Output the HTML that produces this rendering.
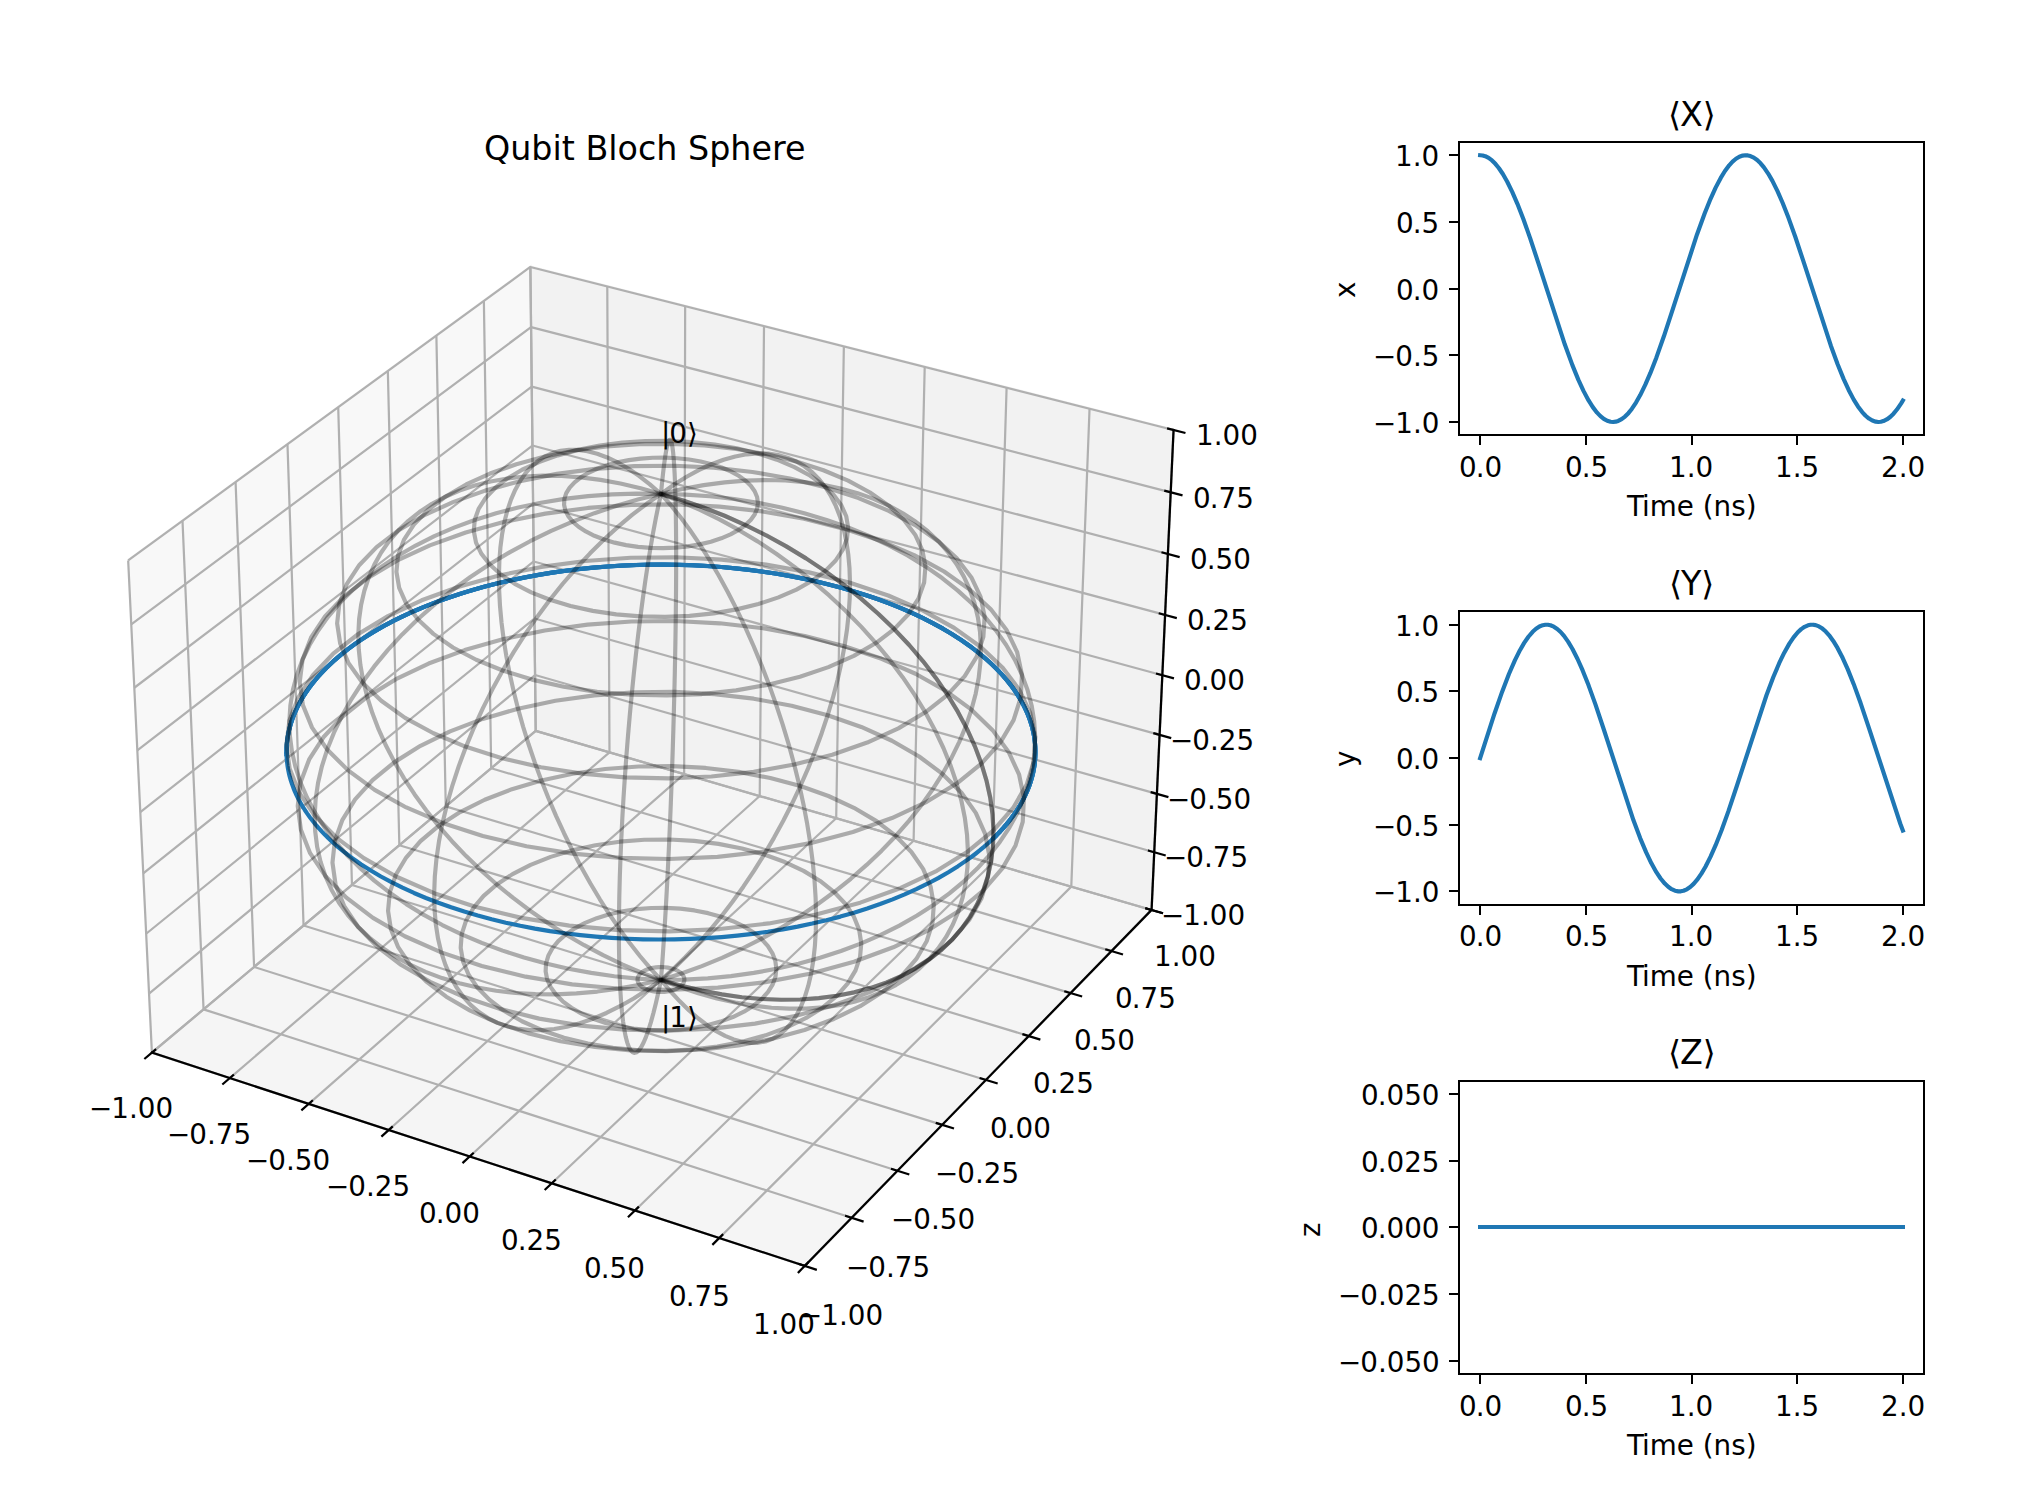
<!DOCTYPE html>
<html lang="en">
<head>
<meta charset="utf-8">
<title>Qubit Bloch Sphere</title>
<style>
html,body{margin:0;padding:0;background:#fff;}
body{width:2036px;height:1486px;overflow:hidden;font-family:"DejaVu Sans","Liberation Sans",sans-serif;}
svg text{font-family:"DejaVu Sans","Liberation Sans",sans-serif;fill:#000;text-anchor:start;}
svg text.t10{font-size:10px;}
svg text.t12{font-size:12px;}
</style>
</head>
<body>
<svg width="2036" height="1486" viewBox="0 0 732.96 534.96" style="display:block">
 <defs>
  <style type="text/css">*{stroke-linejoin: round; stroke-linecap: butt}</style>
 </defs>
 <g id="figure_1">
  <g id="patch_1">
   <path d="M 0 534.96 L 732.96 534.96 L 732.96 0 L 0 0 z
" style="fill: #ffffff"/>
  </g>
  <g id="patch_2">
   <path d="M 23.085 482.121 L 441.495 482.121 L 441.495 63.711 L 23.085 63.711 z
" style="fill: #ffffff"/>
  </g>
  <g id="pane3d_1">
   <g id="patch_3">
    <path d="M 54.67784 378.954503 L 192.850487 263.135451 L 190.929755 96.103673 L 46.144835 201.761113 " style="fill: #f2f2f2; opacity: 0.5; stroke: #f2f2f2; stroke-linejoin: miter"/>
   </g>
  </g>
  <g id="pane3d_2">
   <g id="patch_4">
    <path d="M 192.850487 263.135451 L 414.568285 327.580061 L 422.480611 154.795065 L 190.929755 96.103673 " style="fill: #e6e6e6; opacity: 0.5; stroke: #e6e6e6; stroke-linejoin: miter"/>
   </g>
  </g>
  <g id="pane3d_3">
   <g id="patch_5">
    <path d="M 54.67784 378.954503 L 289.709535 455.715854 L 414.568285 327.580061 L 192.850487 263.135451 " style="fill: #ececec; opacity: 0.5; stroke: #ececec; stroke-linejoin: miter"/>
   </g>
  </g>
  <g id="grid3d_1">
   <g id="Line3DCollection_1">
    <path d="M 54.67784 378.954503 L 192.850487 263.135451 L 190.929755 96.103673 " style="fill: none; stroke: #b0b0b0; stroke-width: 0.8"/>
    <path d="M 82.727675 388.115579 L 219.414432 270.856541 L 218.620289 103.122416 " style="fill: none; stroke: #b0b0b0; stroke-width: 0.8"/>
    <path d="M 111.142439 397.395841 L 246.2954 278.669777 L 246.655542 110.228536 " style="fill: none; stroke: #b0b0b0; stroke-width: 0.8"/>
    <path d="M 139.929299 406.797629 L 273.499099 286.576818 L 275.04199 117.423673 " style="fill: none; stroke: #b0b0b0; stroke-width: 0.8"/>
    <path d="M 169.095614 416.323348 L 301.031377 294.579364 L 303.786276 124.709511 " style="fill: none; stroke: #b0b0b0; stroke-width: 0.8"/>
    <path d="M 198.648936 425.975463 L 328.898223 302.679156 L 332.895207 132.087777 " style="fill: none; stroke: #b0b0b0; stroke-width: 0.8"/>
    <path d="M 228.597019 435.756506 L 357.105772 310.877977 L 362.375768 139.56024 " style="fill: none; stroke: #b0b0b0; stroke-width: 0.8"/>
    <path d="M 258.947826 445.66908 L 385.660312 319.177655 L 392.23512 147.128715 " style="fill: none; stroke: #b0b0b0; stroke-width: 0.8"/>
    <path d="M 289.709535 455.715854 L 414.568285 327.580061 L 422.480611 154.795065 " style="fill: none; stroke: #b0b0b0; stroke-width: 0.8"/>
   </g>
  </g>
  <g id="grid3d_2">
   <g id="Line3DCollection_2">
    <path d="M 46.144835 201.761113 L 54.67784 378.954503 L 289.709535 455.715854 " style="fill: none; stroke: #b0b0b0; stroke-width: 0.8"/>
    <path d="M 65.700638 187.490179 L 73.279328 363.362367 L 306.582966 438.399563 " style="fill: none; stroke: #b0b0b0; stroke-width: 0.8"/>
    <path d="M 84.811533 173.543918 L 91.476038 348.109524 L 323.069793 421.480023 " style="fill: none; stroke: #b0b0b0; stroke-width: 0.8"/>
    <path d="M 103.492532 159.911376 L 109.281038 333.18502 L 339.183153 404.943752 " style="fill: none; stroke: #b0b0b0; stroke-width: 0.8"/>
    <path d="M 121.75798 146.582084 L 126.706844 318.578364 L 354.935593 388.777873 " style="fill: none; stroke: #b0b0b0; stroke-width: 0.8"/>
    <path d="M 139.621589 133.546036 L 143.76544 304.279511 L 370.339106 372.970079 " style="fill: none; stroke: #b0b0b0; stroke-width: 0.8"/>
    <path d="M 157.096476 120.793659 L 160.468313 290.278832 L 385.405157 357.508604 " style="fill: none; stroke: #b0b0b0; stroke-width: 0.8"/>
    <path d="M 174.195192 108.315795 L 176.826474 276.567096 L 400.144717 342.38219 " style="fill: none; stroke: #b0b0b0; stroke-width: 0.8"/>
    <path d="M 190.929755 96.103673 L 192.850487 263.135451 L 414.568285 327.580061 " style="fill: none; stroke: #b0b0b0; stroke-width: 0.8"/>
   </g>
  </g>
  <g id="grid3d_3">
   <g id="Line3DCollection_3">
    <path d="M 414.568285 327.580061 L 192.850487 263.135451 L 54.67784 378.954503 " style="fill: none; stroke: #b0b0b0; stroke-width: 0.8"/>
    <path d="M 415.52002 306.796604 L 192.619022 243.006677 L 53.652969 357.672376 " style="fill: none; stroke: #b0b0b0; stroke-width: 0.8"/>
    <path d="M 416.482067 285.78795 L 192.385169 222.670196 L 52.61657 336.15088 " style="fill: none; stroke: #b0b0b0; stroke-width: 0.8"/>
    <path d="M 417.454595 264.550421 L 192.14889 202.122777 L 51.568448 314.385954 " style="fill: none; stroke: #b0b0b0; stroke-width: 0.8"/>
    <path d="M 418.437776 243.080255 L 191.910148 181.36112 L 50.508404 292.373445 " style="fill: none; stroke: #b0b0b0; stroke-width: 0.8"/>
    <path d="M 419.431786 221.37361 L 191.668903 160.381857 L 49.436232 270.109103 " style="fill: none; stroke: #b0b0b0; stroke-width: 0.8"/>
    <path d="M 420.436806 199.426555 L 191.425116 139.181548 L 48.351723 247.588582 " style="fill: none; stroke: #b0b0b0; stroke-width: 0.8"/>
    <path d="M 421.453018 177.235076 L 191.178747 117.756683 L 47.254664 224.807436 " style="fill: none; stroke: #b0b0b0; stroke-width: 0.8"/>
    <path d="M 422.480611 154.795065 L 190.929755 96.103673 L 46.144835 201.761113 " style="fill: none; stroke: #b0b0b0; stroke-width: 0.8"/>
   </g>
  </g>
  <g id="axis3d_1">
   <g id="line2d_1">
    <path d="M 54.67784 378.954503 L 289.709535 455.715854 " style="fill: none; stroke: #000000; stroke-width: 0.8; stroke-linecap: square"/>
   </g>
   <g id="xtick_1">
    <g id="line2d_2">
     <path d="M 55.88072 377.946225 L 52.266936 380.975371 " style="fill: none; stroke: #000000; stroke-width: 0.8; stroke-linecap: square"/>
    </g>
    <g id="text_1">
     <text class="t10" x="31.68" y="402.494" dx="0.36 -0.36">−1.00</text>
    </g>
   </g>
   <g id="xtick_2">
    <g id="line2d_3">
     <path d="M 83.918242 387.094231 L 80.341415 390.162672 " style="fill: none; stroke: #000000; stroke-width: 0.8; stroke-linecap: square"/>
    </g>
    <g id="text_2">
     <text class="t10" x="59.76" y="411.854" dx="0.36 -0.36">−0.75</text>
    </g>
   </g>
   <g id="xtick_3">
    <g id="line2d_4">
     <path d="M 112.32027 396.361166 L 108.781672 399.469672 " style="fill: none; stroke: #000000; stroke-width: 0.8; stroke-linecap: square"/>
    </g>
    <g id="text_3">
     <text class="t10" x="88.2" y="421.214" dx="0.36 -0.36">−0.50</text>
    </g>
   </g>
   <g id="xtick_4">
    <g id="line2d_5">
     <path d="M 141.093959 405.749366 L 137.594901 408.898727 " style="fill: none; stroke: #000000; stroke-width: 0.8; stroke-linecap: square"/>
    </g>
    <g id="text_4">
     <text class="t10" x="117" y="430.574" dx="0.36 -0.36">−0.25</text>
    </g>
   </g>
   <g id="xtick_5">
    <g id="line2d_6">
     <path d="M 170.246651 415.261226 L 166.788488 418.452253 " style="fill: none; stroke: #000000; stroke-width: 0.8; stroke-linecap: square"/>
    </g>
    <g id="text_5">
     <text class="t10" x="150.48" y="440.294" dx="0.36 -0.36">0.00</text>
    </g>
   </g>
   <g id="xtick_6">
    <g id="line2d_7">
     <path d="M 199.785885 424.899207 L 196.370014 428.132731 " style="fill: none; stroke: #000000; stroke-width: 0.8; stroke-linecap: square"/>
    </g>
    <g id="text_6">
     <text class="t10" x="180" y="450.014" dx="0.36 -0.36">0.25</text>
    </g>
   </g>
   <g id="xtick_7">
    <g id="line2d_8">
     <path d="M 229.7194 434.665832 L 226.347264 437.942708 " style="fill: none; stroke: #000000; stroke-width: 0.8; stroke-linecap: square"/>
    </g>
    <g id="text_7">
     <text class="t10" x="209.88" y="460.094" dx="0.36 -0.36">0.50</text>
    </g>
   </g>
   <g id="xtick_8">
    <g id="line2d_9">
     <path d="M 260.055143 444.563694 L 256.728232 447.884801 " style="fill: none; stroke: #000000; stroke-width: 0.8; stroke-linecap: square"/>
    </g>
    <g id="text_8">
     <text class="t10" x="240.48" y="470.174" dx="0.36 -0.36">0.75</text>
    </g>
   </g>
   <g id="xtick_9">
    <g id="line2d_10">
     <path d="M 290.801277 454.595458 L 287.521129 457.961697 " style="fill: none; stroke: #000000; stroke-width: 0.8; stroke-linecap: square"/>
    </g>
    <g id="text_9">
     <text class="t10" x="271.08" y="480.254">1.00</text>
    </g>
   </g>
  </g>
  <g id="axis3d_2">
   <g id="line2d_11">
    <path d="M 414.568285 327.580061 L 289.709535 455.715854 " style="fill: none; stroke: #000000; stroke-width: 0.8; stroke-linecap: square"/>
   </g>
   <g id="xtick_10">
    <g id="line2d_12">
     <path d="M 287.728317 455.068788 L 293.677125 457.011669 " style="fill: none; stroke: #000000; stroke-width: 0.8; stroke-linecap: square"/>
    </g>
    <g id="text_10">
     <text class="t10" x="287.28" y="477.014" dx="0.36 -0.36">−1.00</text>
    </g>
   </g>
   <g id="xtick_11">
    <g id="line2d_13">
     <path d="M 304.617476 437.767405 L 310.519 439.665506 " style="fill: none; stroke: #000000; stroke-width: 0.8; stroke-linecap: square"/>
    </g>
    <g id="text_11">
     <text class="t10" x="304.2" y="459.734" dx="0.36 -0.36">−0.75</text>
    </g>
   </g>
   <g id="xtick_12">
    <g id="line2d_14">
     <path d="M 321.119834 420.862262 L 326.974668 422.717114 " style="fill: none; stroke: #000000; stroke-width: 0.8; stroke-linecap: square"/>
    </g>
    <g id="text_12">
     <text class="t10" x="320.4" y="442.454" dx="0.36 -0.36">−0.50</text>
    </g>
   </g>
   <g id="xtick_13">
    <g id="line2d_15">
     <path d="M 337.248529 404.339903 L 343.057261 406.152967 " style="fill: none; stroke: #000000; stroke-width: 0.8; stroke-linecap: square"/>
    </g>
    <g id="text_13">
     <text class="t10" x="336.24" y="425.894" dx="0.36 -0.36">−0.25</text>
    </g>
   </g>
   <g id="xtick_14">
    <g id="line2d_16">
     <path d="M 353.016111 388.187471 L 358.779326 389.960144 " style="fill: none; stroke: #000000; stroke-width: 0.8; stroke-linecap: square"/>
    </g>
    <g id="text_14">
     <text class="t10" x="356.04" y="409.694" dx="0.36 -0.36">0.00</text>
    </g>
   </g>
   <g id="xtick_15">
    <g id="line2d_17">
     <path d="M 368.434573 372.39268 L 374.152851 374.126297 " style="fill: none; stroke: #000000; stroke-width: 0.8; stroke-linecap: square"/>
    </g>
    <g id="text_15">
     <text class="t10" x="371.52" y="393.494" dx="0.36 -0.36">0.25</text>
    </g>
   </g>
   <g id="xtick_16">
    <g id="line2d_18">
     <path d="M 383.515383 356.943783 L 389.189299 358.63962 " style="fill: none; stroke: #000000; stroke-width: 0.8; stroke-linecap: square"/>
    </g>
    <g id="text_16">
     <text class="t10" x="386.28" y="378.014" dx="0.36 -0.36">0.50</text>
    </g>
   </g>
   <g id="xtick_17">
    <g id="line2d_19">
     <path d="M 398.269512 341.82954 L 403.899636 343.488818 " style="fill: none; stroke: #000000; stroke-width: 0.8; stroke-linecap: square"/>
    </g>
    <g id="text_17">
     <text class="t10" x="401.04" y="362.894" dx="0.36 -0.36">0.75</text>
    </g>
   </g>
   <g id="xtick_18">
    <g id="line2d_20">
     <path d="M 412.707462 327.039193 L 418.294356 328.663083 " style="fill: none; stroke: #000000; stroke-width: 0.8; stroke-linecap: square"/>
    </g>
    <g id="text_18">
     <text class="t10" x="415.44" y="347.774">1.00</text>
    </g>
   </g>
  </g>
  <g id="axis3d_3">
   <g id="line2d_21">
    <path d="M 414.568285 327.580061 L 422.480611 154.795065 " style="fill: none; stroke: #000000; stroke-width: 0.8; stroke-linecap: square"/>
   </g>
   <g id="xtick_19">
    <g id="line2d_22">
     <path d="M 412.707462 327.039193 L 418.294356 328.663083 " style="fill: none; stroke: #000000; stroke-width: 0.8; stroke-linecap: square"/>
    </g>
    <g id="text_19">
     <text class="t10" x="417.6" y="333.014" dx="0.36 -0.36">−1.00</text>
    </g>
   </g>
   <g id="xtick_20">
    <g id="line2d_23">
     <path d="M 413.648795 306.261096 L 419.266944 307.8689 " style="fill: none; stroke: #000000; stroke-width: 0.8; stroke-linecap: square"/>
    </g>
    <g id="text_20">
     <text class="t10" x="418.68" y="312.134" dx="0.36 -0.36">−0.75</text>
    </g>
   </g>
   <g id="xtick_21">
    <g id="line2d_24">
     <path d="M 414.600323 285.25795 L 420.250078 286.849225 " style="fill: none; stroke: #000000; stroke-width: 0.8; stroke-linecap: square"/>
    </g>
    <g id="text_21">
     <text class="t10" x="419.76" y="291.254" dx="0.36 -0.36">−0.50</text>
    </g>
   </g>
   <g id="xtick_22">
    <g id="line2d_25">
     <path d="M 415.562214 264.026081 L 421.243931 265.600369 " style="fill: none; stroke: #000000; stroke-width: 0.8; stroke-linecap: square"/>
    </g>
    <g id="text_22">
     <text class="t10" x="420.84" y="270.014" dx="0.36 -0.36">−0.25</text>
    </g>
   </g>
   <g id="xtick_23">
    <g id="line2d_26">
     <path d="M 416.534637 242.561731 L 422.24868 244.118564 " style="fill: none; stroke: #000000; stroke-width: 0.8; stroke-linecap: square"/>
    </g>
    <g id="text_23">
     <text class="t10" x="425.88" y="248.414" dx="0.36 -0.36">0.00</text>
    </g>
   </g>
   <g id="xtick_24">
    <g id="line2d_27">
     <path d="M 417.517766 220.861061 L 423.264505 222.399959 " style="fill: none; stroke: #000000; stroke-width: 0.8; stroke-linecap: square"/>
    </g>
    <g id="text_24">
     <text class="t10" x="426.96" y="226.814" dx="0.36 -0.36">0.25</text>
    </g>
   </g>
   <g id="xtick_25">
    <g id="line2d_28">
     <path d="M 418.51178 198.920148 L 424.291589 200.440614 " style="fill: none; stroke: #000000; stroke-width: 0.8; stroke-linecap: square"/>
    </g>
    <g id="text_25">
     <text class="t10" x="428.04" y="204.854" dx="0.36 -0.36">0.50</text>
    </g>
   </g>
   <g id="xtick_26">
    <g id="line2d_29">
     <path d="M 419.516859 176.734978 L 425.330121 178.236507 " style="fill: none; stroke: #000000; stroke-width: 0.8; stroke-linecap: square"/>
    </g>
    <g id="text_26">
     <text class="t10" x="429.12" y="182.894" dx="0.36 -0.36">0.75</text>
    </g>
   </g>
   <g id="xtick_27">
    <g id="line2d_30">
     <path d="M 420.53319 154.301451 L 426.380294 155.783521 " style="fill: none; stroke: #000000; stroke-width: 0.8; stroke-linecap: square"/>
    </g>
    <g id="text_27">
     <text class="t10" x="430.56" y="160.214">1.00</text>
    </g>
   </g>
  </g>
  <g id="axes_1">
   <g id="line2d_31">
    <path d="M 357.616097 301.808115 L 358.864918 300.571378 L 360.06167 299.323228 L 361.205984 298.064235 L 362.297515 296.794973 L 363.335945 295.516013 L 364.320982 294.227931 L 365.252361 292.931302 L 366.129843 291.626703 L 366.953213 290.314711 L 367.722283 288.995901 L 368.436891 287.670851 L 369.096899 286.340135 L 369.702194 285.00433 L 370.25269 283.664008 L 370.748322 282.319742 L 371.189051 280.972102 L 371.574864 279.621656 L 371.90577 278.268972 L 372.1818 276.914613 L 372.403011 275.55914 L 372.569482 274.203111 L 372.681313 272.847081 L 372.738629 271.491602 L 372.741574 270.137221 L 372.690318 268.784484 L 372.585047 267.433929 L 372.425971 266.086092 L 372.213321 264.741506 L 371.947347 263.400697 L 371.628318 262.064186 L 371.256526 260.732491 L 370.832279 259.406125 L 370.355904 258.085593 L 369.827748 256.771397 L 369.248175 255.464033 L 368.617567 254.163991 L 367.936323 252.871756 L 367.20486 251.587805 L 366.423611 250.312612 L 365.593024 249.046642 L 364.713564 247.790356 L 363.785711 246.544207 L 362.809961 245.308642 L 361.786825 244.084102 L 360.716826 242.871022 L 359.600503 241.669828 L 358.438408 240.480941 L 357.231106 239.304775 L 354.683209 236.992228 L 351.961588 234.735359 L 349.071207 232.537227 L 346.017212 230.400778 L 342.804916 228.328844 L 339.439794 226.32414 L 335.927466 224.389266 L 332.273694 222.526704 L 328.484369 220.738819 L 324.565503 219.02786 L 320.523222 217.395958 L 316.363756 215.845127 L 312.093431 214.377264 L 307.718663 212.994151 L 303.245949 211.697452 L 298.681861 210.488716 L 294.033041 209.369378 L 289.30619 208.340755 L 284.508067 207.404054 L 279.645482 206.560364 L 274.725286 205.810664 L 269.754373 205.155818 L 264.739668 204.596579 L 259.688127 204.133586 L 254.606728 203.767369 L 249.502471 203.498344 L 244.382367 203.326816 L 239.253441 203.252982 L 234.122722 203.276923 L 228.997238 203.398614 L 223.884017 203.617916 L 218.790078 203.934579 L 213.722427 204.348245 L 208.688053 204.858441 L 203.693925 205.464584 L 198.746984 206.16598 L 193.85414 206.96182 L 189.022267 207.851186 L 184.258198 208.833043 L 179.568716 209.906245 L 174.960554 211.069532 L 170.440385 212.321528 L 166.014816 213.660743 L 161.690386 215.085572 L 157.47355 216.594293 L 153.370683 218.185067 L 149.388065 219.855941 L 145.531875 221.604843 L 141.808184 223.429585 L 138.222946 225.32786 L 134.781991 227.297246 L 131.491013 229.335203 L 128.35556 231.439075 L 125.381031 233.60609 L 122.572657 235.833361 L 119.935497 238.117884 L 117.474424 240.456545 L 116.311391 241.645174 L 115.194118 242.846118 L 114.123157 244.058958 L 113.099049 245.283265 L 112.122316 246.518607 L 111.19347 247.764542 L 110.313007 249.020624 L 109.481407 250.286399 L 108.699135 251.561406 L 107.96664 252.845181 L 107.284356 254.13725 L 106.652699 255.437136 L 106.07207 256.744354 L 105.542849 258.058414 L 105.065402 259.37882 L 104.640076 260.705071 L 104.267198 262.036661 L 103.947079 263.373077 L 103.680007 264.713804 L 103.466254 266.058317 L 103.306071 267.406092 L 103.199688 268.756596 L 103.147314 270.109294 L 103.14914 271.463646 L 103.14914 271.463646 " clip-path="url(#p5a0a475c9b)" style="fill: none; stroke: #1f77b4; stroke-width: 1.5; stroke-linecap: square"/>
   </g>
   <g id="line2d_32">
    <path d="M 103.14914 271.463646 L 103.205333 272.819108 L 103.316038 274.175132 L 103.48138 275.531167 L 103.701461 276.886657 L 103.97636 278.241045 L 104.306132 279.59377 L 104.690812 280.944267 L 105.130409 282.29197 L 105.624909 283.636312 L 106.174273 284.976721 L 106.778438 286.312626 L 107.437318 287.643452 L 108.150801 288.968625 L 108.918749 290.287569 L 109.741001 291.599708 L 110.617368 292.904465 L 111.547638 294.201264 L 112.531571 295.489528 L 113.568902 296.768682 L 114.65934 298.038151 L 115.802569 299.297361 L 116.998243 300.54574 L 118.245993 301.782719 L 119.545424 303.007729 L 120.896111 304.220205 L 122.297605 305.419585 L 123.749431 306.605311 L 125.251086 307.776825 L 126.802041 308.933578 L 128.401741 310.075022 L 130.049604 311.200614 L 133.487361 313.402099 L 137.110136 315.533802 L 140.912341 317.591588 L 144.887979 319.571431 L 149.030658 321.469428 L 153.333596 323.281806 L 157.789631 325.004937 L 162.391239 326.635348 L 167.130541 328.169728 L 171.999323 329.604944 L 176.989054 330.938049 L 182.0909 332.166289 L 187.295745 333.287114 L 192.594213 334.298189 L 197.976691 335.197395 L 203.433348 335.982843 L 208.954164 336.652878 L 214.528951 337.206083 L 220.147382 337.641285 L 225.799015 337.957561 L 231.473321 338.154238 L 237.159712 338.230898 L 242.847569 338.187377 L 248.526268 338.023768 L 254.185208 337.74042 L 259.813843 337.337935 L 265.401703 336.817167 L 270.938427 336.179222 L 276.413787 335.425448 L 281.817713 334.557436 L 287.14032 333.577012 L 292.371932 332.48623 L 297.503105 331.287369 L 302.524651 329.982918 L 307.427655 328.575577 L 312.2035 327.068239 L 316.843883 325.46399 L 321.340833 323.76609 L 325.686724 321.977969 L 329.874294 320.103214 L 333.896656 318.145558 L 337.747307 316.108871 L 341.420143 313.997146 L 344.90946 311.814487 L 348.209969 309.565101 L 349.787881 308.416725 L 351.316796 307.253285 L 352.796171 306.07533 L 354.225488 304.883412 L 355.604256 303.67809 L 356.932013 302.459924 L 358.208319 301.229477 L 358.208319 301.229477 " clip-path="url(#p5a0a475c9b)" style="fill: none; stroke: #1f77b4; stroke-width: 1.5; stroke-linecap: square"/>
   </g>
   <g id="line2d_33">
    <path d="M 358.208319 301.229477 L 359.432765 299.987315 L 360.604966 298.734009 L 361.724562 297.470128 L 362.791224 296.196245 L 363.804645 294.912935 L 364.764545 293.620772 L 365.670672 292.320333 L 366.522797 291.012194 L 367.32072 289.696933 L 368.064263 288.375124 L 368.753276 287.047345 L 369.387634 285.71417 L 369.967234 284.376175 L 370.492002 283.033932 L 370.961885 281.688012 L 371.376856 280.338986 L 371.736912 278.98742 L 372.042073 277.63388 L 372.292382 276.278929 L 372.487905 274.923126 L 372.628733 273.567027 L 372.714977 272.211187 L 372.746771 270.856155 L 372.724271 269.502478 L 372.647654 268.150697 L 372.517118 266.801351 L 372.332883 265.454973 L 372.095189 264.112093 L 371.804295 262.773235 L 371.46048 261.438919 L 371.064044 260.10966 L 370.615304 258.785968 L 370.114597 257.468346 L 369.562277 256.157293 L 368.958717 254.853303 L 368.304308 253.556863 L 367.599456 252.268454 L 366.844585 250.988553 L 366.040137 249.717628 L 365.186567 248.456144 L 364.284347 247.204556 L 363.333966 245.963316 L 362.335925 244.732868 L 361.290741 243.51365 L 360.198946 242.306092 L 359.061084 241.110619 L 357.877713 239.927648 L 356.649406 238.75759 L 354.06033 236.45782 L 351.298677 234.214455 L 348.369456 232.030529 L 345.277853 229.908961 L 342.029219 227.852555 L 338.629063 225.863999 L 335.08304 223.945865 L 331.396944 222.100609 L 327.576694 220.330568 L 323.62833 218.637963 L 319.558004 217.024898 L 315.371967 215.493359 L 311.076568 214.045217 L 306.678243 212.682225 L 302.183507 211.406021 L 297.598948 210.218127 L 292.931224 209.119949 L 288.187049 208.112781 L 283.373195 207.197799 L 278.496482 206.376069 L 273.563772 205.648542 L 268.581966 205.016055 L 263.557996 204.479334 L 258.498826 204.038995 L 253.411437 203.695538 L 248.302833 203.449355 L 243.18003 203.300726 L 238.050053 203.249819 L 232.91993 203.296692 L 227.796692 203.441291 L 222.687363 203.683454 L 217.598961 204.022904 L 212.538487 204.459255 L 207.512928 204.992009 L 202.529244 205.620558 L 197.594372 206.34418 L 192.715212 207.162041 L 187.898629 208.073195 L 183.151445 209.076583 L 178.480433 210.171029 L 173.892311 211.355249 L 169.393737 212.627838 L 164.991304 213.987281 L 160.691531 215.431943 L 156.500855 216.960077 L 152.42563 218.569817 L 148.472111 220.25918 L 144.646455 222.026069 L 140.954705 223.868268 L 137.402787 225.783442 L 133.9965 227.769142 L 130.741504 229.822801 L 127.643313 231.941735 L 124.707288 234.123145 L 121.938621 236.364116 L 119.342328 238.66162 L 118.110338 239.830594 L 116.923237 241.012515 L 115.781598 242.206972 L 114.68598 243.413549 L 113.63693 244.631821 L 112.634978 245.861359 L 111.680645 247.101725 L 110.774432 248.352476 L 109.916829 249.613161 L 109.108309 250.883324 L 108.349331 252.162502 L 107.640335 253.450226 L 106.981747 254.746022 L 106.373976 256.049407 L 105.817413 257.359896 L 105.312433 258.676994 L 104.859391 260.000205 L 104.458626 261.329024 L 104.110458 262.662942 L 103.815185 264.001444 L 103.57309 265.344012 L 103.384435 266.690121 L 103.249459 268.039243 L 103.168384 269.390843 L 103.141411 270.744385 L 103.141411 270.744385 " clip-path="url(#p5a0a475c9b)" style="fill: none; stroke: #1f77b4; stroke-width: 1.5; stroke-linecap: square"/>
   </g>
   <g id="line2d_34">
    <path d="M 357.616097 301.808115 L 358.864918 300.571378 L 360.06167 299.323228 L 361.205984 298.064235 L 362.297515 296.794973 L 363.335945 295.516013 L 364.320982 294.227931 L 365.252361 292.931302 L 366.129843 291.626703 L 366.953213 290.314711 L 367.722283 288.995901 L 368.436891 287.670851 L 369.096899 286.340135 L 369.702194 285.00433 L 370.25269 283.664008 L 370.748322 282.319742 L 371.189051 280.972102 L 371.574864 279.621656 L 371.90577 278.268972 L 372.1818 276.914613 L 372.403011 275.55914 L 372.569482 274.203111 L 372.681313 272.847081 L 372.738629 271.491602 L 372.741574 270.137221 L 372.690318 268.784484 L 372.585047 267.433929 L 372.425971 266.086092 L 372.213321 264.741506 L 371.947347 263.400697 L 371.628318 262.064186 L 371.256526 260.732491 L 370.832279 259.406125 L 370.355904 258.085593 L 369.827748 256.771397 L 369.248175 255.464033 L 368.617567 254.163991 L 367.936323 252.871756 L 367.20486 251.587805 L 366.423611 250.312612 L 365.593024 249.046642 L 364.713564 247.790356 L 363.785711 246.544207 L 362.809961 245.308642 L 361.786825 244.084102 L 360.716826 242.871022 L 359.600503 241.669828 L 358.438408 240.480941 L 357.231106 239.304775 L 354.683209 236.992228 L 351.961588 234.735359 L 349.071207 232.537227 L 346.017212 230.400778 L 342.804916 228.328844 L 339.439794 226.32414 L 335.927466 224.389266 L 332.273694 222.526704 L 328.484369 220.738819 L 324.565503 219.02786 L 320.523222 217.395958 L 316.363756 215.845127 L 312.093431 214.377264 L 307.718663 212.994151 L 303.245949 211.697452 L 298.681861 210.488716 L 294.033041 209.369378 L 289.30619 208.340755 L 284.508067 207.404054 L 279.645482 206.560364 L 274.725286 205.810664 L 269.754373 205.155818 L 264.739668 204.596579 L 259.688127 204.133586 L 254.606728 203.767369 L 249.502471 203.498344 L 244.382367 203.326816 L 239.253441 203.252982 L 234.122722 203.276923 L 228.997238 203.398614 L 223.884017 203.617916 L 218.790078 203.934579 L 213.722427 204.348245 L 208.688053 204.858441 L 203.693925 205.464584 L 198.746984 206.16598 L 193.85414 206.96182 L 189.022267 207.851186 L 184.258198 208.833043 L 179.568716 209.906245 L 174.960554 211.069532 L 170.440385 212.321528 L 166.014816 213.660743 L 161.690386 215.085572 L 157.47355 216.594293 L 153.370683 218.185067 L 149.388065 219.855941 L 145.531875 221.604843 L 141.808184 223.429585 L 138.222946 225.32786 L 134.781991 227.297246 L 131.491013 229.335203 L 128.35556 231.439075 L 125.381031 233.60609 L 122.572657 235.833361 L 119.935497 238.117884 L 117.474424 240.456545 L 116.311391 241.645174 L 115.194118 242.846118 L 114.123157 244.058958 L 113.099049 245.283265 L 112.122316 246.518607 L 111.19347 247.764542 L 110.313007 249.020624 L 109.481407 250.286399 L 108.699135 251.561406 L 107.96664 252.845181 L 107.284356 254.13725 L 106.652699 255.437136 L 106.07207 256.744354 L 105.542849 258.058414 L 105.065402 259.37882 L 104.640076 260.705071 L 104.267198 262.036661 L 103.947079 263.373077 L 103.680007 264.713804 L 103.466254 266.058317 L 103.306071 267.406092 L 103.199688 268.756596 L 103.147314 270.109294 L 103.14914 271.463646 L 103.14914 271.463646 " clip-path="url(#p5a0a475c9b)" style="fill: none; stroke: #1f77b4; stroke-width: 1.5; stroke-linecap: square"/>
   </g>
   <g id="Line3DCollection_4">
    <path d="M 237.944189 177.824889 L 245.597081 180.071035 L 253.242148 182.691992 L 260.845478 185.677885 L 268.373063 189.017008 L 275.790983 192.695855 L 283.065596 196.699178 L 290.163736 201.010041 L 297.0529 205.6099 L 303.701444 210.478694 L 310.078774 215.594943 L 316.155527 220.935864 L 321.903749 226.477494 L 327.297065 232.194826 L 332.310837 238.061948 L 336.922306 244.052195 L 341.110728 250.138304 L 344.857492 256.292572 L 348.146214 262.48702 L 350.962828 268.693554 L 353.295649 274.884128 L 355.135424 281.030905 L 356.475358 287.106412 L 357.31113 293.08369 L 357.640886 298.936441 L 357.465215 304.639164 L 356.787114 310.167284 L 355.611931 315.497268 L 353.947296 320.606737 L 351.803039 325.474561 L 349.1911 330.080946 L 346.125419 334.407508 L 342.621829 338.437336 L 338.697933 342.155045 L 334.372978 345.546816 L 329.667723 348.600422 L 324.604309 351.305254 L 319.20612 353.652321 L 313.497646 355.634258 L 307.504352 357.245311 L 301.252538 358.481325 L 294.769211 359.339717 L 288.081956 359.819447 L 281.21881 359.920981 L 274.208144 359.646254 L 267.078546 358.998622 L 259.858711 357.982815 L 252.577337 356.604887 L 245.263026 354.872165 L 237.944189 352.79319 " clip-path="url(#p5a0a475c9b)" style="fill: none; stroke: #000000; stroke-opacity: 0.3; stroke-width: 1.5"/>
    <path d="M 237.944189 177.824889 L 246.765877 178.056746 L 255.549473 178.663465 L 264.25644 179.642266 L 272.848634 180.988634 L 281.288496 182.696351 L 289.539255 184.757526 L 297.565105 187.162651 L 305.331391 189.900652 L 312.804779 192.958961 L 319.953413 196.323586 L 326.747068 199.979195 L 333.157287 203.909206 L 339.157504 208.095882 L 344.723159 212.520431 L 349.831792 217.163108 L 354.463129 222.003326 L 358.599151 227.019765 L 362.224147 232.190481 L 365.324759 237.493021 L 367.890006 242.904532 L 369.911302 248.401876 L 371.382453 253.961732 L 372.299649 259.56071 L 372.661442 265.175451 L 372.46871 270.782728 L 371.724619 276.359542 L 370.434568 281.883217 L 368.606127 287.331484 L 366.248974 292.682568 L 363.374819 297.915264 L 359.997321 303.009011 L 356.13201 307.943958 L 351.79619 312.701032 L 347.008854 317.261993 L 341.790584 321.609488 L 336.163455 325.727098 L 330.150936 329.599389 L 323.777788 333.211941 L 317.069968 336.551392 L 310.05452 339.60547 L 302.75948 342.363012 L 295.213768 344.813999 L 287.447095 346.949571 L 279.489851 348.762046 L 271.373016 350.244933 L 263.128052 351.39295 L 254.786806 352.202026 L 246.381411 352.669314 L 237.944189 352.79319 " clip-path="url(#p5a0a475c9b)" style="fill: none; stroke: #000000; stroke-opacity: 0.3; stroke-width: 1.5"/>
    <path d="M 237.944189 177.824889 L 245.664118 176.03784 L 253.325297 174.639011 L 260.894735 173.632446 L 268.340204 173.02035 L 275.630391 172.803117 L 282.735036 172.979363 L 289.625054 173.545975 L 296.272651 174.498163 L 302.651427 175.829522 L 308.736459 177.532102 L 314.504385 179.596478 L 319.933465 182.011833 L 325.003637 184.766036 L 329.696558 187.845727 L 333.995635 191.236406 L 337.886054 194.922516 L 341.354785 198.887535 L 344.390594 203.114061 L 346.984035 207.583899 L 349.127446 212.278146 L 350.814931 217.177275 L 352.042337 222.261215 L 352.807233 227.509431 L 353.108879 232.901001 L 352.948193 238.414689 L 352.327716 244.029013 L 351.251576 249.722319 L 349.725445 255.472844 L 347.756503 261.258779 L 345.353394 267.058328 L 342.526185 272.849772 L 339.28632 278.611521 L 335.646582 284.32217 L 331.621046 289.960553 L 327.225035 295.505795 L 322.475079 300.937364 L 317.388867 306.235119 L 311.985205 311.379363 L 306.283967 316.350888 L 300.306054 321.131031 L 294.073337 325.701718 L 287.608618 330.045516 L 280.935569 334.145686 L 274.078686 337.986229 L 267.063228 341.551943 L 259.91516 344.828471 L 252.66109 347.802356 L 245.328203 350.461095 L 237.944189 352.79319 " clip-path="url(#p5a0a475c9b)" style="fill: none; stroke: #000000; stroke-opacity: 0.3; stroke-width: 1.5"/>
    <path d="M 237.944189 177.824889 L 242.584416 174.531619 L 247.177966 171.645172 L 251.705432 169.174383 L 256.148046 167.126045 L 260.487758 165.504946 L 264.707298 164.313913 L 268.790234 163.553867 L 272.721017 163.223887 L 276.485021 163.321283 L 280.068576 163.84167 L 283.458986 164.779051 L 286.644548 166.125903 L 289.614563 167.873261 L 292.359337 170.010806 L 294.870181 172.526953 L 297.139405 175.408938 L 299.160309 178.6429 L 300.927171 182.213967 L 302.435229 186.106334 L 303.680666 190.30334 L 304.660592 194.787539 L 305.373021 199.540773 L 305.816854 204.544238 L 305.991855 209.778542 L 305.898635 215.223769 L 305.538626 220.85953 L 304.914068 226.665017 L 304.027985 232.619052 L 302.884172 238.700132 L 301.487174 244.886476 L 299.842273 251.156063 L 297.955476 257.486676 L 295.833496 263.855941 L 293.483743 270.241364 L 290.914314 276.620374 L 288.133977 282.970358 L 285.152166 289.268706 L 281.978966 295.492847 L 278.625107 301.620299 L 275.101946 307.62871 L 271.421465 313.495909 L 267.596249 319.199957 L 263.639477 324.719201 L 259.564905 330.032337 L 255.386844 335.118466 L 251.120143 339.957168 L 246.780163 344.528571 L 242.382747 348.813427 L 237.944189 352.79319 " clip-path="url(#p5a0a475c9b)" style="fill: none; stroke: #000000; stroke-opacity: 0.3; stroke-width: 1.5"/>
    <path d="M 237.944189 177.824889 L 238.319878 173.920944 L 238.691415 170.43346 L 239.057245 167.37312 L 239.415869 164.748457 L 239.765854 162.565894 L 240.105833 160.829794 L 240.434509 159.542527 L 240.750663 158.704536 L 241.053151 158.314421 L 241.340909 158.369016 L 241.612952 158.863484 L 241.868377 159.791403 L 242.106361 161.144857 L 242.326161 162.914531 L 242.527113 165.089798 L 242.708635 167.658811 L 242.870218 170.608586 L 243.011431 173.925088 L 243.131917 177.593309 L 243.231391 181.597342 L 243.30964 185.920455 L 243.366519 190.545154 L 243.401949 195.453248 L 243.415918 200.625905 L 243.408477 206.043708 L 243.379739 211.6867 L 243.329878 217.534433 L 243.259127 223.56601 L 243.167777 229.760124 L 243.056177 236.095092 L 242.924729 242.548895 L 242.773893 249.099206 L 242.604182 255.723425 L 242.416165 262.398709 L 242.21046 269.102002 L 241.987742 275.810072 L 241.748737 282.499539 L 241.494221 289.146913 L 241.225026 295.728633 L 240.942031 302.221104 L 240.646169 308.600745 L 240.338423 314.844035 L 240.019825 320.927566 L 239.691457 326.828104 L 239.354447 332.522648 L 239.009972 337.988504 L 238.659254 343.203357 L 238.303558 348.145354 L 237.944189 352.79319 " clip-path="url(#p5a0a475c9b)" style="fill: none; stroke: #000000; stroke-opacity: 0.3; stroke-width: 1.5"/>
    <path d="M 237.944189 177.824889 L 233.959544 174.360292 L 230.016089 171.305101 L 226.130445 168.668673 L 222.318664 166.458299 L 218.596168 164.679234 L 214.977695 163.334746 L 211.477252 162.426173 L 208.108076 161.95299 L 204.882605 161.912879 L 201.812451 162.301813 L 198.908388 163.114132 L 196.180332 164.342636 L 193.637342 165.978667 L 191.287618 168.012201 L 189.138497 170.431935 L 187.19647 173.225372 L 185.467183 176.378912 L 183.955454 179.877926 L 182.665286 183.706842 L 181.599884 187.849219 L 180.761668 192.28782 L 180.152297 197.004679 L 179.772682 201.981168 L 179.623004 207.198058 L 179.702735 212.635571 L 180.010652 218.273443 L 180.544857 224.090965 L 181.302786 230.067035 L 182.281231 236.180202 L 183.476349 242.408706 L 184.883675 248.730522 L 186.498133 255.123393 L 188.314049 261.564871 L 190.325158 268.032355 L 192.524614 274.503126 L 194.904994 280.954386 L 197.458314 287.363293 L 200.176028 293.707008 L 203.04904 299.962729 L 206.067711 306.107743 L 209.221866 312.119467 L 212.500807 317.975506 L 215.893319 323.653699 L 219.387686 329.132188 L 222.971706 334.389474 L 226.632702 339.404485 L 230.35755 344.156657 L 234.132698 348.626 L 237.944189 352.79319 " clip-path="url(#p5a0a475c9b)" style="fill: none; stroke: #000000; stroke-opacity: 0.3; stroke-width: 1.5"/>
    <path d="M 237.944189 177.824889 L 230.616255 175.738569 L 223.347656 174.043579 L 216.169587 172.744938 L 209.112459 171.845795 L 202.20576 171.347456 L 195.477932 171.249419 L 188.956258 171.549425 L 182.666759 172.243508 L 176.634105 173.326063 L 170.881541 174.789911 L 165.430815 176.626374 L 160.30213 178.825355 L 155.514095 181.37542 L 151.083697 184.26388 L 147.026271 187.476877 L 143.355491 190.999474 L 140.083358 194.815734 L 137.220203 198.908815 L 134.774695 203.261046 L 132.753851 207.854015 L 131.163056 212.668648 L 130.006086 217.685285 L 129.28513 222.883762 L 129.000821 228.243478 L 129.152271 233.74347 L 129.737096 239.362477 L 130.751458 245.079008 L 132.190097 250.871403 L 134.046367 256.717891 L 136.312274 262.596653 L 138.978513 268.485874 L 142.034501 274.363795 L 145.46842 280.20877 L 149.267248 285.999316 L 153.416798 291.71416 L 157.901755 297.332291 L 162.705713 302.833011 L 167.811209 308.195982 L 173.199767 313.401274 L 178.851929 318.429419 L 184.747303 323.261458 L 190.864598 327.878994 L 197.18167 332.264244 L 203.675571 336.400096 L 210.322592 340.270157 L 217.098319 343.858818 L 223.977686 347.151302 L 230.935038 350.133734 L 237.944189 352.79319 " clip-path="url(#p5a0a475c9b)" style="fill: none; stroke: #000000; stroke-opacity: 0.3; stroke-width: 1.5"/>
    <path d="M 237.944189 177.824889 L 229.149204 177.705811 L 220.397235 177.962962 L 211.726578 178.594774 L 203.175052 179.597941 L 194.779809 180.967448 L 186.577144 182.696601 L 178.602315 184.777083 L 170.889377 187.198999 L 163.471016 189.950951 L 156.378403 193.0201 L 149.641052 196.392253 L 143.286697 200.051944 L 137.341176 203.982528 L 131.828335 208.166273 L 126.76994 212.584465 L 122.185602 217.217503 L 118.092723 222.04501 L 114.506445 227.045934 L 111.439623 232.198656 L 108.902799 237.481095 L 106.904199 242.870813 L 105.449731 248.345117 L 104.543007 253.88116 L 104.18536 259.456042 L 104.375882 265.046901 L 105.111465 270.631006 L 106.386851 276.185849 L 108.194689 281.689223 L 110.5256 287.119306 L 113.368241 292.454735 L 116.709386 297.67468 L 120.533996 302.758906 L 124.825307 307.687843 L 129.564909 312.44264 L 134.732832 317.005222 L 140.307641 321.35834 L 146.266518 325.485617 L 152.585356 329.371595 L 159.238854 333.001771 L 166.200604 336.362638 L 173.443188 339.441713 L 180.938271 342.227576 L 188.656691 344.709889 L 196.568557 346.879428 L 204.643344 348.728104 L 212.849983 350.248982 L 221.156957 351.436303 L 229.5324 352.285494 L 237.944189 352.79319 " clip-path="url(#p5a0a475c9b)" style="fill: none; stroke: #000000; stroke-opacity: 0.3; stroke-width: 1.5"/>
    <path d="M 237.944189 177.824889 L 229.944045 179.758695 L 221.956175 182.066448 L 214.015967 184.739384 L 206.158842 187.766938 L 198.420055 191.136772 L 190.834502 194.83483 L 183.436524 198.845392 L 176.259708 203.15115 L 169.336692 207.733289 L 162.698978 212.571589 L 156.376745 217.644525 L 150.398677 222.92939 L 144.791793 228.402419 L 139.581295 234.038922 L 134.790425 239.813426 L 130.440338 245.69982 L 126.549988 251.671504 L 123.136035 257.701543 L 120.212762 263.762817 L 117.792018 269.828177 L 115.88317 275.870593 L 114.493076 281.863301 L 113.62608 287.779949 L 113.284018 293.594731 L 113.466244 299.28252 L 114.169667 304.818988 L 115.388811 310.180723 L 117.115879 315.345335 L 119.34084 320.291546 L 122.051517 324.999285 L 125.23369 329.449755 L 128.87121 333.625503 L 132.946114 337.510473 L 137.438748 341.090053 L 142.3279 344.351107 L 147.590926 347.282004 L 153.203886 349.872633 L 159.141678 352.114411 L 165.378172 354.000282 L 171.886338 355.524714 L 178.638384 356.683683 L 185.605878 357.47465 L 192.759876 357.896542 L 200.071038 357.949717 L 207.509748 357.635935 L 215.046227 356.958316 L 222.650634 355.921299 L 230.293173 354.530606 L 237.944189 352.79319 " clip-path="url(#p5a0a475c9b)" style="fill: none; stroke: #000000; stroke-opacity: 0.3; stroke-width: 1.5"/>
    <path d="M 237.944189 177.824889 L 232.805894 181.367201 L 227.661926 185.291332 L 222.535176 189.582783 L 217.44879 194.225046 L 212.42605 199.199644 L 207.490233 204.486193 L 202.664471 210.062476 L 197.971614 215.904539 L 193.434075 221.986803 L 189.073684 228.282191 L 184.911545 234.762276 L 180.967885 241.397439 L 177.261919 248.157042 L 173.811709 255.009619 L 170.634042 261.923063 L 167.74431 268.864839 L 165.156403 275.802187 L 162.882614 282.702339 L 160.933558 289.532729 L 159.318107 296.261205 L 158.043334 302.856239 L 157.114483 309.287123 L 156.534942 315.524165 L 156.306246 321.538865 L 156.428082 327.304087 L 156.898321 332.794205 L 157.713057 337.985249 L 158.86666 342.855015 L 160.351844 347.383173 L 162.159749 351.551351 L 164.280021 355.343196 L 166.700915 358.744426 L 169.409394 361.742858 L 172.391241 364.328418 L 175.631165 366.493142 L 179.112923 368.231153 L 182.819429 369.538632 L 186.732875 370.41377 L 190.83484 370.856714 L 195.106402 370.869497 L 199.528252 370.455969 L 204.080789 369.621714 L 208.744225 368.373961 L 213.498677 366.721496 L 218.324255 364.674571 L 223.201143 362.244804 L 228.109677 359.445089 L 233.030413 356.289499 L 237.944189 352.79319 " clip-path="url(#p5a0a475c9b)" style="fill: none; stroke: #000000; stroke-opacity: 0.3; stroke-width: 1.5"/>
    <path d="M 237.944189 177.824889 L 237.000133 182.112616 L 236.053879 186.7887 L 235.109639 191.835985 L 234.171693 197.235162 L 233.244367 202.964817 L 232.332007 209.001489 L 231.438951 215.319762 L 230.569503 221.892366 L 229.727904 228.690306 L 228.918301 235.683012 L 228.14472 242.838501 L 227.411036 250.123566 L 226.72094 257.50398 L 226.077919 264.944708 L 225.485222 272.410143 L 224.945839 279.864337 L 224.462475 287.271256 L 224.037534 294.595021 L 223.673097 301.800163 L 223.370909 308.851869 L 223.132365 315.716221 L 222.958507 322.360431 L 222.850011 328.753058 L 222.807193 334.864215 L 222.830005 340.665756 L 222.918041 346.131442 L 223.07055 351.237094 L 223.286439 355.960712 L 223.564294 360.282583 L 223.902392 364.185356 L 224.298718 367.6541 L 224.750992 370.676335 L 225.256681 373.242046 L 225.81303 375.343667 L 226.41708 376.976056 L 227.065696 378.136445 L 227.755586 378.824375 L 228.48333 379.041617 L 229.2454 378.792083 L 230.038185 378.081723 L 230.85801 376.918416 L 231.701162 375.311853 L 232.563903 373.273418 L 233.442495 370.816066 L 234.333212 367.954194 L 235.232361 364.703522 L 236.136291 361.08097 L 237.041408 357.104538 L 237.944189 352.79319 " clip-path="url(#p5a0a475c9b)" style="fill: none; stroke: #000000; stroke-opacity: 0.3; stroke-width: 1.5"/>
    <path d="M 237.944189 177.824889 L 241.439582 181.799881 L 244.941317 186.160264 L 248.433809 190.889995 L 251.901247 195.970943 L 255.327691 201.382932 L 258.697157 207.103802 L 261.993716 213.109495 L 265.201597 219.374147 L 268.30529 225.87022 L 271.28965 232.568632 L 274.140004 239.438921 L 276.842253 246.449415 L 279.382977 253.567425 L 281.749534 260.759447 L 283.93015 267.991376 L 285.914011 275.228733 L 287.691337 282.436889 L 289.25346 289.581305 L 290.592879 296.62776 L 291.703315 303.542585 L 292.579749 310.29289 L 293.218453 316.846781 L 293.617003 323.173566 L 293.774286 329.243952 L 293.690494 335.030221 L 293.367103 340.506396 L 292.806848 345.648378 L 292.013677 350.434074 L 290.992711 354.843496 L 289.750181 358.858846 L 288.293365 362.464573 L 286.630519 365.647414 L 284.770799 368.396413 L 282.724186 370.70292 L 280.501397 372.560575 L 278.113809 373.965269 L 275.573366 374.915098 L 272.892502 375.410297 L 270.084055 375.453164 L 267.161185 375.047974 L 264.1373 374.200886 L 261.025977 372.91984 L 257.840893 371.214455 L 254.59576 369.095917 L 251.304261 366.576867 L 247.979992 363.671295 L 244.636414 360.394422 L 241.286798 356.762598 L 237.944189 352.79319 " clip-path="url(#p5a0a475c9b)" style="fill: none; stroke: #000000; stroke-opacity: 0.3; stroke-width: 1.5"/>
    <path d="M 237.944189 177.824889 L 244.971774 180.51091 L 251.997241 183.5735 L 258.989383 187.001218 L 265.916815 190.780739 L 272.748143 194.896892 L 279.452149 199.332718 L 285.997967 204.069532 L 292.355272 209.087004 L 298.494462 214.363261 L 304.386845 219.874993 L 310.004816 225.597577 L 315.322035 231.505212 L 320.313592 237.571065 L 324.956163 243.767429 L 329.228164 250.065884 L 333.109879 256.437465 L 336.583581 262.852844 L 339.633641 269.2825 L 342.246609 275.696899 L 344.411293 282.066674 L 346.118804 288.362798 L 347.362595 294.556753 L 348.138479 300.620693 L 348.444623 306.527602 L 348.28153 312.251441 L 347.652005 317.767281 L 346.561102 323.05143 L 345.016057 328.081544 L 343.026207 332.836729 L 340.602899 337.297623 L 337.759382 341.446474 L 334.510703 345.267194 L 330.873578 348.745406 L 326.866271 351.868478 L 322.508461 354.625543 L 317.821107 357.007502 L 312.826315 359.007029 L 307.547203 360.61855 L 302.00776 361.838224 L 296.232721 362.663908 L 290.247431 363.095123 L 284.07772 363.133 L 277.749785 362.780236 L 271.29007 362.041034 L 264.725155 360.921043 L 258.081653 359.427294 L 251.386109 357.568137 L 244.664908 355.353175 L 237.944189 352.79319 " clip-path="url(#p5a0a475c9b)" style="fill: none; stroke: #000000; stroke-opacity: 0.3; stroke-width: 1.5"/>
    <path d="M 237.944189 177.824889 L 245.597081 180.071035 L 253.242148 182.691992 L 260.845478 185.677885 L 268.373063 189.017008 L 275.790983 192.695855 L 283.065596 196.699178 L 290.163736 201.010041 L 297.0529 205.6099 L 303.701444 210.478694 L 310.078774 215.594943 L 316.155527 220.935864 L 321.903749 226.477494 L 327.297065 232.194826 L 332.310837 238.061948 L 336.922306 244.052195 L 341.110728 250.138304 L 344.857492 256.292572 L 348.146214 262.48702 L 350.962828 268.693554 L 353.295649 274.884128 L 355.135424 281.030905 L 356.475358 287.106412 L 357.31113 293.08369 L 357.640886 298.936441 L 357.465215 304.639164 L 356.787114 310.167284 L 355.611931 315.497268 L 353.947296 320.606737 L 351.803039 325.474561 L 349.1911 330.080946 L 346.125419 334.407508 L 342.621829 338.437336 L 338.697933 342.155045 L 334.372978 345.546816 L 329.667723 348.600422 L 324.604309 351.305254 L 319.20612 353.652321 L 313.497646 355.634258 L 307.504352 357.245311 L 301.252538 358.481325 L 294.769211 359.339717 L 288.081956 359.819447 L 281.21881 359.920981 L 274.208144 359.646254 L 267.078546 358.998622 L 259.858711 357.982815 L 252.577337 356.604887 L 245.263026 354.872165 L 237.944189 352.79319 " clip-path="url(#p5a0a475c9b)" style="fill: none; stroke: #000000; stroke-opacity: 0.3; stroke-width: 1.5"/>
    <path d="M 237.944189 177.824889 L 237.944189 177.824889 L 237.944189 177.824889 L 237.944189 177.824889 L 237.944189 177.824889 L 237.944189 177.824889 L 237.944189 177.824889 L 237.944189 177.824889 L 237.944189 177.824889 L 237.944189 177.824889 L 237.944189 177.824889 L 237.944189 177.824889 L 237.944189 177.824889 L 237.944189 177.824889 L 237.944189 177.824889 L 237.944189 177.824889 L 237.944189 177.824889 L 237.944189 177.824889 L 237.944189 177.824889 L 237.944189 177.824889 L 237.944189 177.824889 L 237.944189 177.824889 L 237.944189 177.824889 L 237.944189 177.824889 L 237.944189 177.824889 L 237.944189 177.824889 L 237.944189 177.824889 L 237.944189 177.824889 L 237.944189 177.824889 L 237.944189 177.824889 L 237.944189 177.824889 L 237.944189 177.824889 L 237.944189 177.824889 L 237.944189 177.824889 L 237.944189 177.824889 L 237.944189 177.824889 L 237.944189 177.824889 L 237.944189 177.824889 L 237.944189 177.824889 L 237.944189 177.824889 L 237.944189 177.824889 L 237.944189 177.824889 L 237.944189 177.824889 L 237.944189 177.824889 L 237.944189 177.824889 L 237.944189 177.824889 L 237.944189 177.824889 L 237.944189 177.824889 L 237.944189 177.824889 L 237.944189 177.824889 " clip-path="url(#p5a0a475c9b)" style="fill: none; stroke: #000000; stroke-opacity: 0.3; stroke-width: 1.5"/>
    <path d="M 268.373063 189.017008 L 270.319776 187.123142 L 271.726839 185.131317 L 272.573517 183.075057 L 272.848634 180.988634 L 272.550579 178.906477 L 271.687138 176.862591 L 270.275179 174.890024 L 268.340204 173.02035 L 265.91578 171.283213 L 263.04288 169.705906 L 259.769139 168.313003 L 256.148046 167.126045 L 252.238088 166.163263 L 248.101855 165.439368 L 243.805113 164.96537 L 239.415869 164.748457 L 235.003411 164.791913 L 230.637346 165.09508 L 226.386642 165.653366 L 222.318664 166.458299 L 218.498224 167.497619 L 214.986645 168.75542 L 211.840847 170.212339 L 209.112459 171.845795 L 206.846983 173.630268 L 205.083002 175.537638 L 203.851465 177.537569 L 203.175052 179.597941 L 203.067649 181.685332 L 203.533935 183.76553 L 204.569123 185.804095 L 206.158842 187.766938 L 208.279201 189.620916 L 210.89703 191.334439 L 213.970308 192.878059 L 217.44879 194.225046 L 221.274807 195.351913 L 225.384247 196.238897 L 229.707693 196.870369 L 234.171693 197.235162 L 238.700125 197.326813 L 243.215643 197.143693 L 247.641147 196.689052 L 251.901247 195.970943 L 255.923689 195.00205 L 259.640687 193.799421 L 262.990161 192.384109 L 265.916815 190.780739 L 268.373063 189.017008 " clip-path="url(#p5a0a475c9b)" style="fill: none; stroke: #000000; stroke-opacity: 0.3; stroke-width: 1.5"/>
    <path d="M 297.0529 205.6099 L 300.743112 201.886714 L 303.372474 197.982594 L 304.906862 193.964648 L 305.331391 189.900652 L 304.64997 185.857845 L 302.884511 181.901805 L 300.073883 178.095453 L 296.272651 174.498163 L 291.549669 171.165007 L 285.986567 168.146117 L 279.676192 165.486154 L 272.721017 163.223887 L 265.231556 161.391866 L 257.324809 160.016159 L 249.122718 159.116176 L 240.750663 158.704536 L 232.335982 158.786992 L 224.006499 159.362392 L 215.889064 160.422689 L 208.108076 161.95299 L 200.783999 163.931647 L 194.031842 166.330409 L 187.959615 169.114621 L 182.666759 172.243508 L 178.242555 175.670535 L 174.764549 179.343858 L 172.296995 183.206896 L 170.889377 187.198999 L 170.575041 191.25626 L 171.370004 195.312427 L 173.271981 199.299955 L 176.259708 203.15115 L 180.29261 206.799413 L 185.310874 210.18054 L 191.235965 213.234057 L 197.971614 215.904539 L 205.405302 218.142884 L 213.410201 219.907478 L 221.847566 221.165222 L 230.569503 221.892366 L 239.422039 222.075116 L 248.248392 221.710002 L 256.892346 220.803957 L 265.201597 219.374147 L 273.030973 217.447519 L 280.245412 215.060112 L 286.722611 212.256159 L 292.355272 209.087004 L 297.0529 205.6099 " clip-path="url(#p5a0a475c9b)" style="fill: none; stroke: #000000; stroke-opacity: 0.3; stroke-width: 1.5"/>
    <path d="M 321.903749 226.477494 L 327.033334 221.107036 L 330.641313 215.490071 L 332.686885 209.724755 L 333.157287 203.909206 L 332.06658 198.139721 L 329.453979 192.509201 L 325.381845 187.105806 L 319.933465 182.011833 L 313.210719 177.302818 L 305.331709 173.046831 L 296.428433 169.303954 L 286.644548 166.125903 L 276.133239 163.555772 L 265.055218 161.627862 L 253.57685 160.367584 L 241.868377 159.791403 L 230.102227 159.906806 L 218.45137 160.712295 L 207.087692 162.197388 L 196.180332 164.342636 L 185.893972 167.119656 L 176.387031 170.4912 L 167.809746 174.411279 L 160.30213 178.825355 L 153.991803 183.670634 L 148.991721 188.87649 L 145.39783 194.365047 L 143.286697 200.051944 L 142.713206 205.847304 L 143.708397 211.656933 L 146.277554 217.383741 L 150.398677 222.92939 L 156.021447 228.19614 L 163.066799 233.088856 L 171.427229 237.517131 L 180.967885 241.397439 L 191.52852 244.655253 L 202.926278 247.227035 L 214.959302 249.061998 L 227.411036 250.123566 L 240.055111 250.390449 L 252.660616 249.857281 L 264.997553 248.534776 L 276.842253 246.449415 L 287.982543 243.64265 L 298.222452 240.169696 L 307.3863 236.097965 L 315.322035 231.505212 L 321.903749 226.477494 " clip-path="url(#p5a0a475c9b)" style="fill: none; stroke: #000000; stroke-opacity: 0.3; stroke-width: 1.5"/>
    <path d="M 341.110728 250.138304 L 347.307567 243.422367 L 351.621263 236.412095 L 354.009034 229.231439 L 354.463129 222.003326 L 353.008789 214.847412 L 349.701669 207.878167 L 344.624916 201.2033 L 337.886054 194.922516 L 329.613836 189.12658 L 319.955158 183.89665 L 309.072141 179.303836 L 297.139405 175.408938 L 284.341591 172.26232 L 270.871111 169.903873 L 256.926113 168.363031 L 242.708635 167.658811 L 228.422888 167.799847 L 214.27362 168.784412 L 200.464501 170.600416 L 187.19647 173.225372 L 174.665976 176.626367 L 163.063077 180.760017 L 152.569335 185.572471 L 143.355491 190.999474 L 135.578904 196.966528 L 129.380756 203.389216 L 124.883072 210.173705 L 122.185602 217.217503 L 121.362667 224.410494 L 122.460097 231.636287 L 125.492398 238.773907 L 130.440338 245.69982 L 137.249122 252.290283 L 145.827363 258.423968 L 156.046997 263.984789 L 167.74431 268.864839 L 180.722149 272.96732 L 194.753349 276.209325 L 209.585348 278.524342 L 224.945839 279.864337 L 240.549281 280.2013 L 256.103995 279.528162 L 271.319537 277.859033 L 285.914011 275.228733 L 299.621006 271.691655 L 312.195845 267.320032 L 323.420912 262.201695 L 333.109879 256.437465 L 341.110728 250.138304 " clip-path="url(#p5a0a475c9b)" style="fill: none; stroke: #000000; stroke-opacity: 0.3; stroke-width: 1.5"/>
    <path d="M 353.295649 274.884128 L 360.14917 267.235489 L 364.887874 259.261668 L 367.469171 251.104647 L 367.890006 242.904532 L 366.184186 234.796993 L 362.419134 226.91113 L 356.692304 219.367765 L 349.127446 212.278146 L 339.870902 205.743014 L 329.088054 199.851998 L 316.960023 194.683259 L 303.680666 190.30334 L 289.453899 186.767149 L 274.491326 184.118038 L 259.010164 182.387911 L 243.231391 181.597342 L 227.378072 181.755663 L 211.673788 182.861009 L 196.341086 184.900307 L 181.599884 187.849219 L 167.665743 191.672038 L 154.747949 196.321572 L 143.047343 201.739039 L 132.753851 207.854015 L 124.043696 214.584493 L 117.076295 221.837089 L 111.990862 229.507476 L 108.902799 237.481095 L 107.899961 245.634201 L 109.038952 253.835293 L 112.341629 261.946963 L 117.792018 269.828177 L 125.333894 277.336965 L 134.869239 284.333482 L 146.257825 290.683357 L 159.318107 296.261205 L 173.829547 300.954168 L 189.536442 304.665307 L 206.153197 307.316671 L 223.370909 308.851869 L 240.865014 309.237977 L 258.303678 308.466686 L 275.356526 306.554585 L 291.703315 303.542585 L 307.042105 299.494514 L 321.096596 294.494966 L 333.622289 288.646545 L 344.411293 282.066674 L 353.295649 274.884128 " clip-path="url(#p5a0a475c9b)" style="fill: none; stroke: #000000; stroke-opacity: 0.3; stroke-width: 1.5"/>
    <path d="M 357.640886 298.936441 L 364.724763 290.856107 L 369.610788 282.436012 L 372.256714 273.826446 L 372.661442 265.175451 L 370.862107 256.626118 L 366.930574 248.31435 L 360.969602 240.367091 L 353.108879 232.901001 L 343.501112 226.021528 L 332.318309 219.822314 L 319.748344 214.384886 L 305.991855 209.778542 L 291.259503 206.060386 L 275.769571 203.27545 L 259.745873 201.456844 L 243.415918 200.625905 L 227.009259 200.792308 L 210.755952 201.954118 L 194.885044 204.097784 L 179.623004 207.198058 L 165.192016 211.217873 L 151.808071 216.10819 L 139.678771 221.807851 L 129.000821 228.243478 L 119.95717 235.329487 L 112.713787 242.968252 L 107.416133 251.050507 L 104.18536 259.456042 L 103.114366 268.054758 L 104.263855 276.708137 L 107.658581 285.271166 L 113.284018 293.594731 L 121.083695 301.528468 L 130.957458 308.924019 L 142.760912 315.638618 L 156.306246 321.538865 L 171.364596 326.504544 L 187.670003 330.432291 L 204.924931 333.238921 L 222.807193 334.864215 L 240.978029 335.273006 L 259.090978 334.456414 L 276.801127 332.432162 L 293.774286 329.243952 L 309.695637 324.959924 L 324.277467 319.670333 L 337.265642 313.484549 L 348.444623 306.527602 L 357.640886 298.936441 " clip-path="url(#p5a0a475c9b)" style="fill: none; stroke: #000000; stroke-opacity: 0.3; stroke-width: 1.5"/>
    <path d="M 353.947296 320.606737 L 360.835491 312.647379 L 365.596429 304.350187 L 368.187565 295.862955 L 368.606127 287.331484 L 366.88641 278.896921 L 363.096497 270.69354 L 357.33463 262.846968 L 349.725445 255.472844 L 340.416235 248.675858 L 329.573375 242.549123 L 317.378999 237.173822 L 304.027985 232.619052 L 289.725263 228.941818 L 274.683446 226.187118 L 259.120746 224.388066 L 243.259127 223.56601 L 227.322636 223.730637 L 211.535833 224.880008 L 196.122247 227.00056 L 181.302786 230.067035 L 167.29401 234.042371 L 154.306217 238.877582 L 142.541264 244.511637 L 132.190097 250.871403 L 123.429947 257.871696 L 116.421212 265.415491 L 111.30404 273.394365 L 108.194689 281.689223 L 107.181763 290.171388 L 108.322473 298.704076 L 111.6391 307.144319 L 117.115879 315.345335 L 124.696539 323.159329 L 134.282732 330.440685 L 145.733602 337.049453 L 158.86666 342.855015 L 173.460118 347.739782 L 189.256739 351.602737 L 205.969142 354.36264 L 223.286439 355.960712 L 240.881948 356.362637 L 258.421651 355.559752 L 275.573003 353.569349 L 292.013677 350.434074 L 307.439811 346.22045 L 321.573397 341.016639 L 334.168492 334.929558 L 345.016057 328.081544 L 353.947296 320.606737 " clip-path="url(#p5a0a475c9b)" style="fill: none; stroke: #000000; stroke-opacity: 0.3; stroke-width: 1.5"/>
    <path d="M 342.621829 338.437336 L 348.900964 331.156667 L 353.268321 323.558098 L 355.68108 315.776102 L 356.13201 307.943958 L 354.64735 300.191313 L 351.284161 292.642114 L 346.127317 285.412911 L 339.28632 278.611521 L 330.892082 272.336028 L 321.093784 266.674082 L 310.055907 261.702434 L 297.955476 257.486676 L 284.979549 254.081113 L 271.322957 251.528742 L 257.186259 249.861278 L 242.773893 249.099206 L 228.29246 249.251827 L 213.9491 250.317282 L 199.949878 252.282544 L 186.498133 255.123393 L 173.79273 258.804356 L 162.026146 263.27867 L 151.382358 268.48826 L 142.034501 274.363795 L 134.142273 280.824852 L 127.849107 287.780243 L 123.27913 295.128546 L 120.533996 302.758906 L 119.689656 310.552143 L 120.793215 318.382202 L 123.860031 326.117977 L 128.87121 333.625503 L 135.771723 340.770507 L 144.469306 347.42126 L 154.834352 353.451658 L 166.700915 358.744426 L 179.868937 363.194319 L 194.107734 366.711162 L 209.160684 369.222591 L 224.750992 370.676335 L 240.588341 371.041908 L 256.376142 370.311619 L 271.819065 368.500822 L 286.630519 365.647414 L 300.539733 361.810583 L 313.298139 357.068908 L 324.6848 351.51791 L 334.510703 345.267194 L 342.621829 338.437336 " clip-path="url(#p5a0a475c9b)" style="fill: none; stroke: #000000; stroke-opacity: 0.3; stroke-width: 1.5"/>
    <path d="M 324.604309 351.305254 L 329.886332 345.215892 L 333.596194 338.848804 L 335.692647 332.315444 L 336.163455 325.727098 L 335.024078 319.192861 L 332.315883 312.817857 L 328.104019 306.701723 L 322.475079 300.937364 L 315.534652 295.609951 L 307.404862 290.796154 L 298.221951 286.563578 L 288.133977 282.970358 L 277.298626 280.064898 L 265.881178 277.8857 L 254.052597 276.461271 L 241.987742 275.810072 L 229.863668 275.940498 L 217.857972 276.850871 L 206.147163 278.529438 L 194.904994 280.954386 L 184.300739 284.093868 L 174.497364 287.90607 L 165.64958 292.33932 L 157.901755 297.332291 L 151.385687 302.814305 L 146.218261 308.705786 L 142.499008 314.918888 L 140.307641 321.35834 L 139.701635 327.922523 L 140.713941 334.504809 L 143.350967 340.995162 L 147.590926 347.282004 L 153.382705 353.254313 L 160.645372 358.803915 L 169.268432 363.82791 L 179.112923 368.231153 L 190.013405 371.928683 L 201.780847 374.848017 L 214.206361 376.931192 L 227.065696 378.136445 L 240.124334 378.439462 L 253.143005 377.834111 L 265.883394 376.332634 L 278.113809 373.965269 L 289.614579 370.77934 L 300.182972 366.837858 L 309.637444 362.217706 L 317.821107 357.007502 L 324.604309 351.305254 " clip-path="url(#p5a0a475c9b)" style="fill: none; stroke: #000000; stroke-opacity: 0.3; stroke-width: 1.5"/>
    <path d="M 301.252538 358.481325 L 305.19064 354.004572 L 307.990604 349.312309 L 309.616855 344.485424 L 310.05452 339.60547 L 309.308877 334.753202 L 307.404439 330.007242 L 304.383765 325.442878 L 300.306054 321.131031 L 295.24559 317.137364 L 289.290096 313.521547 L 282.539043 310.336659 L 275.101946 307.62871 L 267.096692 305.436278 L 258.647883 303.790232 L 249.88524 302.713534 L 240.942031 302.221104 L 231.953541 302.319741 L 223.055557 303.008085 L 214.382861 304.276623 L 206.067711 306.107743 L 198.238296 308.475829 L 191.017161 311.347417 L 184.519587 314.681418 L 178.851929 318.429419 L 174.109932 322.536086 L 170.377024 326.939677 L 167.722642 331.572689 L 166.200604 336.362638 L 165.847602 341.233001 L 166.681855 346.104307 L 168.702011 350.895378 L 171.886338 355.524714 L 176.192305 359.911995 L 181.556591 363.979659 L 187.895582 367.654542 L 195.106402 370.869497 L 203.068472 373.564964 L 211.645603 375.690416 L 220.688582 377.205629 L 230.038185 378.081723 L 239.528529 378.301921 L 248.990656 377.861996 L 258.256226 376.770388 L 267.161185 375.047974 L 275.54929 372.727515 L 283.275353 369.852797 L 290.208125 366.477509 L 296.232721 362.663908 L 301.252538 358.481325 " clip-path="url(#p5a0a475c9b)" style="fill: none; stroke: #000000; stroke-opacity: 0.3; stroke-width: 1.5"/>
    <path d="M 274.208144 359.646254 L 276.51675 357.076247 L 278.180622 354.374947 L 279.17581 351.588023 L 279.489851 348.762046 L 279.121709 345.943679 L 278.081521 343.178897 L 276.390167 340.512257 L 274.078686 337.986229 L 271.187554 335.640584 L 267.765874 333.511855 L 263.870466 331.632868 L 259.564905 330.032337 L 254.918505 328.734527 L 250.005278 327.758988 L 244.902866 327.120335 L 239.691457 326.828104 L 234.452696 326.886647 L 229.268597 327.295093 L 224.22044 328.047354 L 219.387686 329.132188 L 214.846886 330.533315 L 210.670603 332.229587 L 206.926353 334.195222 L 203.675571 336.400096 L 200.972609 338.810098 L 198.863789 341.387561 L 197.38653 344.091749 L 196.568557 346.879428 L 196.427227 349.70549 L 196.968994 352.523646 L 198.189029 355.287176 L 200.071038 357.949717 L 202.587268 360.466087 L 205.698757 362.793116 L 209.355802 364.890479 L 213.498677 366.721496 L 218.058585 368.253887 L 222.958829 369.460449 L 228.116195 370.319642 L 233.442495 370.816066 L 238.846255 370.940795 L 244.234489 370.691586 L 249.514515 370.072922 L 254.59576 369.095917 L 259.391514 367.778061 L 263.820569 366.142842 L 267.808719 364.219224 L 271.29007 362.041034 L 274.208144 359.646254 " clip-path="url(#p5a0a475c9b)" style="fill: none; stroke: #000000; stroke-opacity: 0.3; stroke-width: 1.5"/>
    <path d="M 245.263026 354.872165 L 245.74039 354.354495 L 246.089267 353.808736 L 246.304064 353.243906 L 246.381411 352.669314 L 246.320208 352.094408 L 246.12163 351.528619 L 245.789095 350.981202 L 245.328203 350.461095 L 244.746629 349.976766 L 244.053994 349.536087 L 243.261701 349.146203 L 242.382747 348.813427 L 241.431507 348.543137 L 240.423506 348.339697 L 239.375169 348.206386 L 238.303558 348.145354 L 237.226102 348.157582 L 236.160325 348.242875 L 235.123564 348.399857 L 234.132698 348.626 L 233.203879 348.917655 L 232.352278 349.270112 L 231.591835 349.677672 L 230.935038 350.133734 L 230.392715 350.630896 L 229.973856 351.161073 L 229.685457 351.715626 L 229.5324 352.285494 L 229.517363 352.861347 L 229.640762 353.433731 L 229.900737 353.993227 L 230.293173 354.530606 L 230.81175 355.036983 L 231.448046 355.503965 L 232.191667 355.923799 L 233.030413 356.289499 L 233.950477 356.594971 L 234.936675 356.835117 L 235.972704 357.005925 L 237.041408 357.104538 L 238.125079 357.129306 L 239.205751 357.079816 L 240.265509 356.956894 L 241.286798 356.762598 L 242.252714 356.500175 L 243.147295 356.174009 L 243.955792 355.789541 L 244.664908 355.353175 L 245.263026 354.872165 " clip-path="url(#p5a0a475c9b)" style="fill: none; stroke: #000000; stroke-opacity: 0.3; stroke-width: 1.5"/>
    <path d="M 237.944189 352.79319 L 237.944189 352.79319 L 237.944189 352.79319 L 237.944189 352.79319 L 237.944189 352.79319 L 237.944189 352.79319 L 237.944189 352.79319 L 237.944189 352.79319 L 237.944189 352.79319 L 237.944189 352.79319 L 237.944189 352.79319 L 237.944189 352.79319 L 237.944189 352.79319 L 237.944189 352.79319 L 237.944189 352.79319 L 237.944189 352.79319 L 237.944189 352.79319 L 237.944189 352.79319 L 237.944189 352.79319 L 237.944189 352.79319 L 237.944189 352.79319 L 237.944189 352.79319 L 237.944189 352.79319 L 237.944189 352.79319 L 237.944189 352.79319 L 237.944189 352.79319 L 237.944189 352.79319 L 237.944189 352.79319 L 237.944189 352.79319 L 237.944189 352.79319 L 237.944189 352.79319 L 237.944189 352.79319 L 237.944189 352.79319 L 237.944189 352.79319 L 237.944189 352.79319 L 237.944189 352.79319 L 237.944189 352.79319 L 237.944189 352.79319 L 237.944189 352.79319 L 237.944189 352.79319 L 237.944189 352.79319 L 237.944189 352.79319 L 237.944189 352.79319 L 237.944189 352.79319 L 237.944189 352.79319 L 237.944189 352.79319 L 237.944189 352.79319 L 237.944189 352.79319 L 237.944189 352.79319 L 237.944189 352.79319 " clip-path="url(#p5a0a475c9b)" style="fill: none; stroke: #000000; stroke-opacity: 0.3; stroke-width: 1.5"/>
   </g>
   <g id="text_28">
    <text class="t10" x="237.6" y="159.494" dx="0.36 -0.36">|0⟩</text>
   </g>
   <g id="text_29">
    <text class="t10" x="237.6" y="369.734" dx="0.36 -0.36">|1⟩</text>
   </g>
   <g id="text_30">
    <text class="t12" x="174.24" y="57.614">Qubit Bloch Sphere</text>
   </g>
  </g>
  <g id="axes_2">
   <g id="patch_6">
    <path d="M 525.24 156.708 L 692.64 156.708 L 692.64 51.084 L 525.24 51.084 z
" style="fill: #ffffff"/>
   </g>
   <g id="matplotlib.axis_1">
    <g id="xtick_28">
     <g id="line2d_35">
      <defs>
       <path id="ma146cec9b6" d="M 0 0 L 0 3.5 " shape-rendering="crispEdges" style="stroke: #000000; stroke-width: 0.8"/>
      </defs>
      <g>
       <use href="#ma146cec9b6" x="532.8" y="156.6" style="stroke: #000000; stroke-width: 0.8"/>
      </g>
     </g>
     <g id="text_31">
      <text class="t10" x="524.88" y="171.734" dx="0.36 -0.36">0.0</text>
     </g>
    </g>
    <g id="xtick_29">
     <g id="line2d_36">
      <g>
       <use href="#ma146cec9b6" x="570.96" y="156.6" style="stroke: #000000; stroke-width: 0.8"/>
      </g>
     </g>
     <g id="text_32">
      <text class="t10" x="563.04" y="171.734" dx="0.36 -0.36">0.5</text>
     </g>
    </g>
    <g id="xtick_30">
     <g id="line2d_37">
      <g>
       <use href="#ma146cec9b6" x="609.12" y="156.6" style="stroke: #000000; stroke-width: 0.8"/>
      </g>
     </g>
     <g id="text_33">
      <text class="t10" x="600.84" y="171.734">1.0</text>
     </g>
    </g>
    <g id="xtick_31">
     <g id="line2d_38">
      <g>
       <use href="#ma146cec9b6" x="646.92" y="156.6" style="stroke: #000000; stroke-width: 0.8"/>
      </g>
     </g>
     <g id="text_34">
      <text class="t10" x="639" y="171.734">1.5</text>
     </g>
    </g>
    <g id="xtick_32">
     <g id="line2d_39">
      <g>
       <use href="#ma146cec9b6" x="685.08" y="156.6" style="stroke: #000000; stroke-width: 0.8"/>
      </g>
     </g>
     <g id="text_35">
      <text class="t10" x="677.16" y="171.734">2.0</text>
     </g>
    </g>
    <g id="text_36">
     <text class="t10" x="585.36" y="185.774" dx="0.36 -0.36">Time (ns)</text>
    </g>
   </g>
   <g id="matplotlib.axis_2">
    <g id="ytick_1">
     <g id="line2d_40">
      <defs>
       <path id="mf317b4066d" d="M 0 0 L -3.5 0 " shape-rendering="crispEdges" style="stroke: #000000; stroke-width: 0.8"/>
      </defs>
      <g>
       <use href="#mf317b4066d" x="525.24" y="151.92" style="stroke: #000000; stroke-width: 0.8"/>
      </g>
     </g>
     <g id="text_37">
      <text class="t10" x="493.92" y="155.894" dx="0.36 -0.36">−1.0</text>
     </g>
    </g>
    <g id="ytick_2">
     <g id="line2d_41">
      <g>
       <use href="#mf317b4066d" x="525.24" y="127.8" style="stroke: #000000; stroke-width: 0.8"/>
      </g>
     </g>
     <g id="text_38">
      <text class="t10" x="493.92" y="131.774" dx="0.36 -0.36">−0.5</text>
     </g>
    </g>
    <g id="ytick_3">
     <g id="line2d_42">
      <g>
       <use href="#mf317b4066d" x="525.24" y="104.04" style="stroke: #000000; stroke-width: 0.8"/>
      </g>
     </g>
     <g id="text_39">
      <text class="t10" x="502.2" y="108.014" dx="0.36 -0.36">0.0</text>
     </g>
    </g>
    <g id="ytick_4">
     <g id="line2d_43">
      <g>
       <use href="#mf317b4066d" x="525.24" y="79.92" style="stroke: #000000; stroke-width: 0.8"/>
      </g>
     </g>
     <g id="text_40">
      <text class="t10" x="502.2" y="83.894" dx="0.36 -0.36">0.5</text>
     </g>
    </g>
    <g id="ytick_5">
     <g id="line2d_44">
      <g>
       <use href="#mf317b4066d" x="525.24" y="55.8" style="stroke: #000000; stroke-width: 0.8"/>
      </g>
     </g>
     <g id="text_41">
      <text class="t10" x="502.2" y="59.774">1.0</text>
     </g>
    </g>
    <g id="text_42">
     <text class="t10" x="487.814" y="107.28" transform="rotate(-90 487.814 107.28)">x</text>
    </g>
   </g>
   <g id="line2d_45">
    <path d="M 532.849091 55.885091 L 533.764012 55.971832 L 534.678932 56.23174 L 535.898827 56.845945 L 537.118721 57.762317 L 538.338615 58.974973 L 539.55851 60.476124 L 541.083378 62.743401 L 542.608246 65.423511 L 544.438087 69.146454 L 546.267929 73.371196 L 548.402744 78.852529 L 550.842532 85.712642 L 554.197242 95.868716 L 563.346449 124.050778 L 566.091212 131.540711 L 568.226027 136.757651 L 570.055868 140.719016 L 571.88571 144.148647 L 573.410578 146.564509 L 574.935445 148.552335 L 576.15534 149.82086 L 577.375234 150.794447 L 578.595128 151.466842 L 579.815023 151.833727 L 580.729944 151.906909 L 581.644864 151.806611 L 582.559785 151.533197 L 583.779679 150.901148 L 584.999574 149.967222 L 586.219468 148.737418 L 587.439362 147.219634 L 588.96423 144.932452 L 590.489098 142.233606 L 592.31894 138.48999 L 594.148781 134.246828 L 596.283596 128.747207 L 599.028359 120.975125 L 602.383068 110.750401 L 610.922328 84.41256 L 613.667091 76.857206 L 615.801906 71.575674 L 617.631747 67.550434 L 619.461589 64.050041 L 620.986457 61.570684 L 622.511324 59.515925 L 623.731219 58.19183 L 624.951113 57.161259 L 626.171007 56.430831 L 627.390902 56.005238 L 628.305823 55.887809 L 629.220743 55.943851 L 630.135664 56.173163 L 631.355558 56.746919 L 632.575453 57.62348 L 633.795347 58.797216 L 635.015241 60.260588 L 636.540109 62.482615 L 638.064977 65.120093 L 639.894819 68.795929 L 641.72466 72.978626 L 643.859475 78.41811 L 646.299264 85.240887 L 649.653973 95.365522 L 659.108154 124.45949 L 661.547943 131.121486 L 663.682758 136.38336 L 665.5126 140.389129 L 667.342441 143.867929 L 668.867309 146.327894 L 670.392177 148.362196 L 671.612071 149.669299 L 672.831966 150.682436 L 674.05186 151.395101 L 675.271754 151.802717 L 676.186675 151.906592 L 677.101596 151.836989 L 678.016517 151.594159 L 679.236411 151.002528 L 680.456305 150.108369 L 681.6762 148.917425 L 682.896094 147.437345 L 684.420962 145.195299 L 685.030909 144.181075 L 685.030909 144.181075 " clip-path="url(#p6b11b979e5)" style="fill: none; stroke: #1f77b4; stroke-width: 1.5; stroke-linecap: square"/>
   </g>
   <g id="patch_7">
    <path d="M 525.24 156.6 L 525.24 51.12" shape-rendering="crispEdges" style="fill: none; stroke: #000000; stroke-width: 0.8; stroke-linejoin: miter; stroke-linecap: square"/>
   </g>
   <g id="patch_8">
    <path d="M 692.64 156.6 L 692.64 51.12" shape-rendering="crispEdges" style="fill: none; stroke: #000000; stroke-width: 0.8; stroke-linejoin: miter; stroke-linecap: square"/>
   </g>
   <g id="patch_9">
    <path d="M 525.24 156.6 L 692.64 156.6" shape-rendering="crispEdges" style="fill: none; stroke: #000000; stroke-width: 0.8; stroke-linejoin: miter; stroke-linecap: square"/>
   </g>
   <g id="patch_10">
    <path d="M 525.24 51.12 L 692.64 51.12" shape-rendering="crispEdges" style="fill: none; stroke: #000000; stroke-width: 0.8; stroke-linejoin: miter; stroke-linecap: square"/>
   </g>
   <g id="text_43">
    <text class="t12" x="600.12" y="45.374" dx="0.36 -0.36">⟨X⟩</text>
   </g>
  </g>
  <g id="axes_3">
   <g id="patch_11">
    <path d="M 525.24 325.7064 L 692.64 325.7064 L 692.64 220.0824 L 525.24 220.0824 z
" style="fill: #ffffff"/>
   </g>
   <g id="matplotlib.axis_3">
    <g id="xtick_33">
     <g id="line2d_46">
      <g>
       <use href="#ma146cec9b6" x="532.8" y="325.8" style="stroke: #000000; stroke-width: 0.8"/>
      </g>
     </g>
     <g id="text_44">
      <text class="t10" x="524.88" y="340.574" dx="0.36 -0.36">0.0</text>
     </g>
    </g>
    <g id="xtick_34">
     <g id="line2d_47">
      <g>
       <use href="#ma146cec9b6" x="570.96" y="325.8" style="stroke: #000000; stroke-width: 0.8"/>
      </g>
     </g>
     <g id="text_45">
      <text class="t10" x="563.04" y="340.574" dx="0.36 -0.36">0.5</text>
     </g>
    </g>
    <g id="xtick_35">
     <g id="line2d_48">
      <g>
       <use href="#ma146cec9b6" x="609.12" y="325.8" style="stroke: #000000; stroke-width: 0.8"/>
      </g>
     </g>
     <g id="text_46">
      <text class="t10" x="600.84" y="340.574">1.0</text>
     </g>
    </g>
    <g id="xtick_36">
     <g id="line2d_49">
      <g>
       <use href="#ma146cec9b6" x="646.92" y="325.8" style="stroke: #000000; stroke-width: 0.8"/>
      </g>
     </g>
     <g id="text_47">
      <text class="t10" x="639" y="340.574">1.5</text>
     </g>
    </g>
    <g id="xtick_37">
     <g id="line2d_50">
      <g>
       <use href="#ma146cec9b6" x="685.08" y="325.8" style="stroke: #000000; stroke-width: 0.8"/>
      </g>
     </g>
     <g id="text_48">
      <text class="t10" x="677.16" y="340.574">2.0</text>
     </g>
    </g>
    <g id="text_49">
     <text class="t10" x="585.36" y="354.974" dx="0.36 -0.36">Time (ns)</text>
    </g>
   </g>
   <g id="matplotlib.axis_4">
    <g id="ytick_6">
     <g id="line2d_51">
      <g>
       <use href="#mf317b4066d" x="525.24" y="320.76" style="stroke: #000000; stroke-width: 0.8"/>
      </g>
     </g>
     <g id="text_50">
      <text class="t10" x="493.92" y="324.734" dx="0.36 -0.36">−1.0</text>
     </g>
    </g>
    <g id="ytick_7">
     <g id="line2d_52">
      <g>
       <use href="#mf317b4066d" x="525.24" y="297" style="stroke: #000000; stroke-width: 0.8"/>
      </g>
     </g>
     <g id="text_51">
      <text class="t10" x="493.92" y="300.974" dx="0.36 -0.36">−0.5</text>
     </g>
    </g>
    <g id="ytick_8">
     <g id="line2d_53">
      <g>
       <use href="#mf317b4066d" x="525.24" y="272.88" style="stroke: #000000; stroke-width: 0.8"/>
      </g>
     </g>
     <g id="text_52">
      <text class="t10" x="502.2" y="276.854" dx="0.36 -0.36">0.0</text>
     </g>
    </g>
    <g id="ytick_9">
     <g id="line2d_54">
      <g>
       <use href="#mf317b4066d" x="525.24" y="248.76" style="stroke: #000000; stroke-width: 0.8"/>
      </g>
     </g>
     <g id="text_53">
      <text class="t10" x="502.2" y="252.734" dx="0.36 -0.36">0.5</text>
     </g>
    </g>
    <g id="ytick_10">
     <g id="line2d_55">
      <g>
       <use href="#mf317b4066d" x="525.24" y="225" style="stroke: #000000; stroke-width: 0.8"/>
      </g>
     </g>
     <g id="text_54">
      <text class="t10" x="502.2" y="228.974">1.0</text>
     </g>
    </g>
    <g id="text_55">
     <text class="t10" x="487.814" y="276.12" transform="rotate(-90 487.814 276.12)">y</text>
    </g>
   </g>
   <g id="line2d_56">
    <path d="M 532.849091 272.89447 L 538.033642 256.852568 L 540.778404 248.995327 L 543.218193 242.654611 L 545.353008 237.737613 L 547.182849 234.069484 L 548.707717 231.438973 L 550.232585 229.224331 L 551.757453 227.447776 L 552.977347 226.354084 L 554.197242 225.559284 L 555.417136 225.068483 L 556.332057 224.901851 L 557.246978 224.908633 L 558.161898 225.088804 L 559.381793 225.597536 L 560.601687 226.41002 L 561.821581 227.521037 L 563.041476 228.923454 L 564.566344 231.07236 L 566.091212 233.640814 L 567.921053 237.240201 L 569.750895 241.35445 L 571.88571 246.725498 L 574.325498 253.486747 L 577.375234 262.616684 L 588.04931 295.30573 L 590.489098 301.796319 L 592.623913 306.872759 L 594.453755 310.696114 L 596.283596 313.973599 L 597.808464 316.253455 L 599.333332 318.098346 L 600.553226 319.248495 L 601.773121 320.100947 L 602.993015 320.650229 L 604.212909 320.892811 L 605.12783 320.872465 L 606.042751 320.678758 L 607.262645 320.152108 L 608.48254 319.321958 L 609.702434 318.193639 L 610.922328 316.774399 L 612.447196 314.605299 L 613.972064 312.017767 L 615.801906 308.397227 L 617.631747 304.264015 L 619.766562 298.873971 L 622.206351 292.095589 L 625.256087 282.951726 L 635.930162 250.283902 L 638.369951 243.812758 L 640.504766 238.757137 L 642.334607 234.954131 L 644.164449 231.698997 L 645.689317 229.439065 L 647.214185 227.615066 L 648.434079 226.482186 L 649.653973 225.647377 L 650.873868 225.116 L 651.788788 224.918721 L 652.703709 224.894796 L 653.61863 225.04431 L 654.838524 225.512434 L 656.058419 226.284857 L 657.278313 227.356618 L 658.498207 228.720833 L 660.023075 230.823846 L 661.547943 233.348899 L 663.377785 236.900108 L 665.207626 240.971089 L 667.342441 246.298694 L 669.78223 253.020604 L 672.831966 262.118269 L 684.115988 296.545839 L 685.030909 299.013495 L 685.030909 299.013495 " clip-path="url(#pd74da209ba)" style="fill: none; stroke: #1f77b4; stroke-width: 1.5; stroke-linecap: square"/>
   </g>
   <g id="patch_12">
    <path d="M 525.24 325.8 L 525.24 219.96" shape-rendering="crispEdges" style="fill: none; stroke: #000000; stroke-width: 0.8; stroke-linejoin: miter; stroke-linecap: square"/>
   </g>
   <g id="patch_13">
    <path d="M 692.64 325.8 L 692.64 219.96" shape-rendering="crispEdges" style="fill: none; stroke: #000000; stroke-width: 0.8; stroke-linejoin: miter; stroke-linecap: square"/>
   </g>
   <g id="patch_14">
    <path d="M 525.24 325.8 L 692.64 325.8" shape-rendering="crispEdges" style="fill: none; stroke: #000000; stroke-width: 0.8; stroke-linejoin: miter; stroke-linecap: square"/>
   </g>
   <g id="patch_15">
    <path d="M 525.24 219.96 L 692.64 219.96" shape-rendering="crispEdges" style="fill: none; stroke: #000000; stroke-width: 0.8; stroke-linejoin: miter; stroke-linecap: square"/>
   </g>
   <g id="text_56">
    <text class="t12" x="600.48" y="214.214" dx="0.36 -0.36">⟨Y⟩</text>
   </g>
  </g>
  <g id="axes_4">
   <g id="patch_16">
    <path d="M 525.24 494.7048 L 692.64 494.7048 L 692.64 389.0808 L 525.24 389.0808 z
" style="fill: #ffffff"/>
   </g>
   <g id="matplotlib.axis_5">
    <g id="xtick_38">
     <g id="line2d_57">
      <g>
       <use href="#ma146cec9b6" x="532.8" y="494.64" style="stroke: #000000; stroke-width: 0.8"/>
      </g>
     </g>
     <g id="text_57">
      <text class="t10" x="524.88" y="509.774" dx="0.36 -0.36">0.0</text>
     </g>
    </g>
    <g id="xtick_39">
     <g id="line2d_58">
      <g>
       <use href="#ma146cec9b6" x="570.96" y="494.64" style="stroke: #000000; stroke-width: 0.8"/>
      </g>
     </g>
     <g id="text_58">
      <text class="t10" x="563.04" y="509.774" dx="0.36 -0.36">0.5</text>
     </g>
    </g>
    <g id="xtick_40">
     <g id="line2d_59">
      <g>
       <use href="#ma146cec9b6" x="609.12" y="494.64" style="stroke: #000000; stroke-width: 0.8"/>
      </g>
     </g>
     <g id="text_59">
      <text class="t10" x="600.84" y="509.774">1.0</text>
     </g>
    </g>
    <g id="xtick_41">
     <g id="line2d_60">
      <g>
       <use href="#ma146cec9b6" x="646.92" y="494.64" style="stroke: #000000; stroke-width: 0.8"/>
      </g>
     </g>
     <g id="text_60">
      <text class="t10" x="639" y="509.774">1.5</text>
     </g>
    </g>
    <g id="xtick_42">
     <g id="line2d_61">
      <g>
       <use href="#ma146cec9b6" x="685.08" y="494.64" style="stroke: #000000; stroke-width: 0.8"/>
      </g>
     </g>
     <g id="text_61">
      <text class="t10" x="677.16" y="509.774">2.0</text>
     </g>
    </g>
    <g id="text_62">
     <text class="t10" x="585.36" y="523.814" dx="0.36 -0.36">Time (ns)</text>
    </g>
   </g>
   <g id="matplotlib.axis_6">
    <g id="ytick_11">
     <g id="line2d_62">
      <g>
       <use href="#mf317b4066d" x="525.24" y="489.96" style="stroke: #000000; stroke-width: 0.8"/>
      </g>
     </g>
     <g id="text_63">
      <text class="t10" x="481.32" y="493.934" dx="0.36 -0.36">−0.050</text>
     </g>
    </g>
    <g id="ytick_12">
     <g id="line2d_63">
      <g>
       <use href="#mf317b4066d" x="525.24" y="465.84" style="stroke: #000000; stroke-width: 0.8"/>
      </g>
     </g>
     <g id="text_64">
      <text class="t10" x="481.32" y="469.814" dx="0.36 -0.36">−0.025</text>
     </g>
    </g>
    <g id="ytick_13">
     <g id="line2d_64">
      <g>
       <use href="#mf317b4066d" x="525.24" y="441.72" style="stroke: #000000; stroke-width: 0.8"/>
      </g>
     </g>
     <g id="text_65">
      <text class="t10" x="489.6" y="445.694" dx="0.36 -0.36">0.000</text>
     </g>
    </g>
    <g id="ytick_14">
     <g id="line2d_65">
      <g>
       <use href="#mf317b4066d" x="525.24" y="417.96" style="stroke: #000000; stroke-width: 0.8"/>
      </g>
     </g>
     <g id="text_66">
      <text class="t10" x="489.6" y="421.934" dx="0.36 -0.36">0.025</text>
     </g>
    </g>
    <g id="ytick_15">
     <g id="line2d_66">
      <g>
       <use href="#mf317b4066d" x="525.24" y="393.84" style="stroke: #000000; stroke-width: 0.8"/>
      </g>
     </g>
     <g id="text_67">
      <text class="t10" x="489.6" y="397.814" dx="0.36 -0.36">0.050</text>
     </g>
    </g>
    <g id="text_68">
     <text class="t10" x="475.214" y="445.32" transform="rotate(-90 475.214 445.32)">z</text>
    </g>
   </g>
   <g id="line2d_67">
    <path d="M 532.8 441.72 L 685.08 441.72" clip-path="url(#p4b2912f4c9)" shape-rendering="crispEdges" style="fill: none; stroke: #1f77b4; stroke-width: 1.5; stroke-linecap: square"/>
   </g>
   <g id="patch_17">
    <path d="M 525.24 494.64 L 525.24 389.16" shape-rendering="crispEdges" style="fill: none; stroke: #000000; stroke-width: 0.8; stroke-linejoin: miter; stroke-linecap: square"/>
   </g>
   <g id="patch_18">
    <path d="M 692.64 494.64 L 692.64 389.16" shape-rendering="crispEdges" style="fill: none; stroke: #000000; stroke-width: 0.8; stroke-linejoin: miter; stroke-linecap: square"/>
   </g>
   <g id="patch_19">
    <path d="M 525.24 494.64 L 692.64 494.64" shape-rendering="crispEdges" style="fill: none; stroke: #000000; stroke-width: 0.8; stroke-linejoin: miter; stroke-linecap: square"/>
   </g>
   <g id="patch_20">
    <path d="M 525.24 389.16 L 692.64 389.16" shape-rendering="crispEdges" style="fill: none; stroke: #000000; stroke-width: 0.8; stroke-linejoin: miter; stroke-linecap: square"/>
   </g>
   <g id="text_69">
    <text class="t12" x="600.12" y="383.054" dx="0.36 -0.36">⟨Z⟩</text>
   </g>
  </g>
 </g>
 <defs>
  <clipPath id="p5a0a475c9b">
   <rect x="23.085" y="63.711" width="418.41" height="418.41"/>
  </clipPath>
  <clipPath id="p6b11b979e5">
   <rect x="525.24" y="51.084" width="167.4" height="105.624"/>
  </clipPath>
  <clipPath id="pd74da209ba">
   <rect x="525.24" y="220.0824" width="167.4" height="105.624"/>
  </clipPath>
  <clipPath id="p4b2912f4c9">
   <rect x="525.24" y="389.0808" width="167.4" height="105.624"/>
  </clipPath>
 </defs>
</svg>

</body>
</html>
